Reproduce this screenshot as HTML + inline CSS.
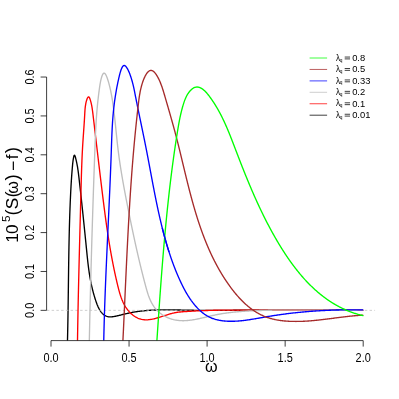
<!DOCTYPE html>
<html><head><meta charset="utf-8"><title>plot</title>
<style>
html,body{margin:0;padding:0;background:#fff;}
body{width:399px;height:399px;overflow:hidden;}
svg{display:block;will-change:transform;}
text{font-family:"Liberation Sans",sans-serif;fill:#000;}
</style></head><body>
<svg width="399" height="399" viewBox="0 0 399 399">
<rect width="399" height="399" fill="#fff"/>
<defs><clipPath id="bc"><rect x="158" y="228" width="14" height="24"/></clipPath><clipPath id="pc"><rect x="46.6" y="60" width="328.6" height="280.6"/></clipPath></defs>
<g clip-path="url(#pc)">
<path d="M67.48 340.46 L67.50 339.77 L67.52 339.09 L67.53 338.40 L67.55 337.71 L67.57 337.02 L67.58 336.33 L67.60 335.64 L67.61 334.95 L67.63 334.26 L67.64 333.57 L67.66 332.88 L67.67 332.19 L67.69 331.50 L67.70 330.81 L67.72 330.12 L67.73 329.43 L67.74 328.73 L67.76 328.04 L67.77 327.35 L67.79 326.65 L67.80 325.96 L67.81 325.27 L67.82 324.57 L67.84 323.88 L67.85 323.18 L67.86 322.49 L67.88 321.79 L67.89 321.10 L67.90 320.40 L67.91 319.70 L67.92 319.01 L67.94 318.31 L67.95 317.61 L67.96 316.92 L67.97 316.22 L67.98 315.52 L67.99 314.82 L68.00 314.12 L68.01 313.42 L68.02 312.73 L68.04 312.03 L68.05 311.33 L68.06 310.63 L68.07 309.93 L68.08 309.23 L68.09 308.53 L68.10 307.83 L68.11 307.13 L68.12 306.43 L68.13 305.72 L68.14 305.02 L68.15 304.32 L68.16 303.62 L68.17 302.92 L68.18 302.22 L68.19 301.51 L68.20 300.81 L68.20 300.11 L68.21 299.41 L68.22 298.70 L68.23 298.00 L68.24 297.30 L68.25 296.59 L68.26 295.89 L68.27 295.19 L68.28 294.48 L68.29 293.78 L68.30 293.08 L68.30 292.37 L68.31 291.67 L68.32 290.96 L68.33 290.26 L68.34 289.55 L68.35 288.85 L68.36 288.14 L68.37 287.44 L68.38 286.73 L68.38 286.03 L68.39 285.32 L68.40 284.62 L68.41 283.91 L68.42 283.21 L68.43 282.50 L68.44 281.80 L68.45 281.09 L68.46 280.39 L68.46 279.68 L68.47 278.97 L68.48 278.27 L68.49 277.56 L68.50 276.86 L68.51 276.15 L68.52 275.44 L68.53 274.74 L68.54 274.03 L68.55 273.33 L68.56 272.62 L68.57 271.91 L68.57 271.21 L68.58 270.50 L68.59 269.79 L68.60 269.09 L68.61 268.38 L68.62 267.68 L68.63 266.97 L68.64 266.26 L68.65 265.56 L68.66 264.85 L68.67 264.14 L68.68 263.44 L68.69 262.73 L68.70 262.03 L68.72 261.32 L68.73 260.61 L68.74 259.91 L68.75 259.20 L68.76 258.50 L68.77 257.79 L68.78 257.08 L68.79 256.38 L68.80 255.67 L68.82 254.97 L68.83 254.26 L68.84 253.56 L68.85 252.85 L68.86 252.15 L68.87 251.44 L68.89 250.74 L68.90 250.03 L68.91 249.33 L68.93 248.62 L68.94 247.92 L68.95 247.21 L68.96 246.51 L68.98 245.80 L68.99 245.10 L69.01 244.39 L69.02 243.69 L69.03 242.99 L69.05 242.28 L69.06 241.58 L69.08 240.88 L69.09 240.17 L69.11 239.47 L69.12 238.77 L69.14 238.06 L69.15 237.36 L69.17 236.66 L69.18 235.96 L69.20 235.25 L69.22 234.55 L69.23 233.85 L69.25 233.15 L69.27 232.45 L69.28 231.74 L69.30 231.04 L69.32 230.34 L69.34 229.64 L69.35 228.94 L69.37 228.24 L69.39 227.54 L69.41 226.84 L69.43 226.14 L69.45 225.44 L69.47 224.74 L69.49 224.04 L69.51 223.35 L69.53 222.65 L69.55 221.95 L69.57 221.25 L69.59 220.55 L69.61 219.86 L69.63 219.16 L69.65 218.46 L69.68 217.77 L69.70 217.07 L69.72 216.37 L69.74 215.68 L69.77 214.98 L69.79 214.29 L69.81 213.59 L69.84 212.90 L69.86 212.20 L69.89 211.51 L69.91 210.81 L69.94 210.12 L69.96 209.43 L69.99 208.73 L70.01 208.04 L70.04 207.35 L70.07 206.66 L70.09 205.97 L70.12 205.28 L70.15 204.58 L70.18 203.89 L70.20 203.20 L70.23 202.51 L70.26 201.82 L70.29 201.14 L70.32 200.45 L70.35 199.76 L70.38 199.07 L70.41 198.38 L70.44 197.69 L70.47 197.01 L70.51 196.32 L70.54 195.64 L70.57 194.95 L70.60 194.26 L70.64 193.58 L70.67 192.89 L70.70 192.21 L70.74 191.52 L70.77 190.84 L70.81 190.16 L70.85 189.47 L70.88 188.79 L70.92 188.10 L70.96 187.42 L70.99 186.73 L71.03 186.04 L71.07 185.36 L71.11 184.67 L71.15 183.98 L71.19 183.29 L71.24 182.60 L71.28 181.91 L71.32 181.22 L71.37 180.53 L71.41 179.83 L71.46 179.14 L71.51 178.44 L71.55 177.75 L71.60 177.05 L71.65 176.35 L71.70 175.65 L71.75 174.94 L71.80 174.24 L71.86 173.53 L71.91 172.82 L71.97 172.11 L72.02 171.40 L72.08 170.68 L72.14 169.97 L72.20 169.25 L72.26 168.53 L72.32 167.80 L72.38 167.08 L72.45 166.35 L72.51 165.62 L72.58 164.88 L72.65 164.15 L72.73 163.40 L72.81 162.66 L72.90 161.91 L72.99 161.15 L73.09 160.39 L73.20 159.62 L73.32 158.84 L73.46 158.06 L73.60 157.30 L73.75 156.60 L73.91 156.01 L74.08 155.54 L74.26 155.25 L74.45 155.17 L74.65 155.32 L74.86 155.67 L75.07 156.17 L75.28 156.80 L75.48 157.52 L75.69 158.29 L75.88 159.07 L76.07 159.84 L76.25 160.61 L76.42 161.37 L76.58 162.12 L76.74 162.86 L76.89 163.60 L77.03 164.33 L77.17 165.06 L77.30 165.78 L77.43 166.49 L77.55 167.20 L77.66 167.91 L77.77 168.61 L77.88 169.31 L77.98 170.01 L78.08 170.70 L78.18 171.39 L78.27 172.07 L78.36 172.76 L78.44 173.44 L78.53 174.12 L78.61 174.80 L78.69 175.48 L78.77 176.16 L78.85 176.84 L78.93 177.52 L79.01 178.20 L79.09 178.89 L79.16 179.57 L79.24 180.25 L79.32 180.94 L79.40 181.62 L79.48 182.31 L79.55 182.99 L79.63 183.68 L79.71 184.37 L79.79 185.06 L79.86 185.75 L79.94 186.44 L80.02 187.13 L80.10 187.82 L80.17 188.52 L80.25 189.21 L80.33 189.90 L80.40 190.60 L80.48 191.29 L80.56 191.99 L80.63 192.69 L80.71 193.38 L80.79 194.08 L80.86 194.78 L80.94 195.48 L81.02 196.18 L81.09 196.88 L81.17 197.58 L81.24 198.28 L81.32 198.98 L81.40 199.68 L81.47 200.38 L81.55 201.08 L81.62 201.79 L81.70 202.49 L81.77 203.19 L81.85 203.89 L81.92 204.60 L82.00 205.30 L82.07 206.01 L82.15 206.71 L82.22 207.41 L82.30 208.12 L82.37 208.82 L82.45 209.53 L82.52 210.23 L82.60 210.94 L82.67 211.65 L82.75 212.35 L82.82 213.06 L82.89 213.76 L82.97 214.47 L83.04 215.17 L83.12 215.88 L83.19 216.58 L83.26 217.29 L83.34 217.99 L83.41 218.70 L83.48 219.40 L83.56 220.11 L83.63 220.81 L83.70 221.52 L83.78 222.22 L83.85 222.93 L83.92 223.63 L83.99 224.34 L84.07 225.04 L84.14 225.74 L84.21 226.45 L84.28 227.15 L84.35 227.85 L84.43 228.55 L84.50 229.26 L84.57 229.96 L84.64 230.66 L84.71 231.36 L84.78 232.06 L84.86 232.76 L84.93 233.46 L85.00 234.16 L85.07 234.85 L85.14 235.55 L85.21 236.25 L85.28 236.95 L85.35 237.64 L85.42 238.34 L85.49 239.03 L85.56 239.73 L85.63 240.42 L85.70 241.11 L85.77 241.81 L85.84 242.50 L85.91 243.19 L85.98 243.88 L86.05 244.57 L86.12 245.26 L86.19 245.94 L86.25 246.63 L86.32 247.32 L86.39 248.00 L86.46 248.69 L86.53 249.37 L86.60 250.05 L86.66 250.74 L86.73 251.42 L86.80 252.10 L86.87 252.78 L86.94 253.45 L87.00 254.13 L87.07 254.81 L87.14 255.49 L87.21 256.16 L87.28 256.84 L87.35 257.51 L87.42 258.19 L87.49 258.86 L87.57 259.53 L87.64 260.21 L87.71 260.88 L87.79 261.55 L87.86 262.22 L87.94 262.90 L88.02 263.57 L88.10 264.24 L88.18 264.91 L88.26 265.58 L88.34 266.25 L88.43 266.92 L88.51 267.60 L88.60 268.27 L88.69 268.94 L88.78 269.61 L88.87 270.28 L88.97 270.95 L89.07 271.63 L89.16 272.30 L89.26 272.97 L89.37 273.65 L89.47 274.32 L89.58 274.99 L89.69 275.67 L89.80 276.34 L89.92 277.02 L90.03 277.70 L90.15 278.37 L90.27 279.05 L90.40 279.73 L90.53 280.41 L90.66 281.09 L90.79 281.77 L90.93 282.45 L91.06 283.14 L91.21 283.82 L91.35 284.51 L91.50 285.19 L91.65 285.88 L91.81 286.57 L91.97 287.26 L92.13 287.95 L92.30 288.64 L92.47 289.33 L92.64 290.03 L92.82 290.72 L93.00 291.42 L93.18 292.12 L93.37 292.82 L93.56 293.52 L93.76 294.22 L93.96 294.93 L94.17 295.63 L94.38 296.34 L94.59 297.05 L94.81 297.76 L95.03 298.47 L95.26 299.19 L95.49 299.90 L95.73 300.62 L95.97 301.34 L96.22 302.06 L96.48 302.77 L96.74 303.49 L97.01 304.19 L97.28 304.89 L97.57 305.59 L97.86 306.27 L98.16 306.95 L98.48 307.61 L98.80 308.26 L99.13 308.90 L99.48 309.52 L99.84 310.13 L100.21 310.72 L100.59 311.29 L100.98 311.84 L101.39 312.37 L101.82 312.87 L102.26 313.36 L102.71 313.81 L103.18 314.24 L103.67 314.64 L104.17 315.02 L104.69 315.36 L105.23 315.67 L105.79 315.95 L106.36 316.19 L106.96 316.40 L107.57 316.58 L108.21 316.71 L108.86 316.80 L109.54 316.86 L110.24 316.88 L110.95 316.86 L111.67 316.82 L112.41 316.74 L113.16 316.65 L113.91 316.53 L114.67 316.39 L115.43 316.24 L116.18 316.08 L116.94 315.91 L117.69 315.74 L118.43 315.57 L119.16 315.39 L119.89 315.22 L120.60 315.04 L121.31 314.87 L122.02 314.70 L122.71 314.53 L123.40 314.36 L124.09 314.19 L124.77 314.03 L125.45 313.86 L126.13 313.70 L126.80 313.55 L127.47 313.39 L128.14 313.24 L128.81 313.09 L129.47 312.95 L130.14 312.81 L130.81 312.67 L131.48 312.54 L132.15 312.41 L132.82 312.28 L133.50 312.16 L134.17 312.04 L134.84 311.93 L135.52 311.82 L136.20 311.72 L136.87 311.61 L137.55 311.51 L138.23 311.42 L138.91 311.33 L139.59 311.24 L140.27 311.15 L140.96 311.07 L141.64 310.99 L142.32 310.91 L143.01 310.84 L143.69 310.77 L144.38 310.71 L145.07 310.64 L145.75 310.58 L146.44 310.52 L147.13 310.47 L147.82 310.41 L148.51 310.36 L149.20 310.32 L149.89 310.27 L150.59 310.23 L151.28 310.19 L151.97 310.15 L152.67 310.12 L153.36 310.09 L154.05 310.06 L154.75 310.03 L155.45 310.00 L156.14 309.98 L156.84 309.96 L157.54 309.94 L158.23 309.92 L158.93 309.90 L159.63 309.89 L160.33 309.88 L161.03 309.86 L161.73 309.86 L162.43 309.85 L163.13 309.84 L163.83 309.84 L164.53 309.83 L165.23 309.83 L165.94 309.83 L166.64 309.83 L167.34 309.83 L168.04 309.84 L168.75 309.84 L169.45 309.85 L170.15 309.85 L170.86 309.86 L171.56 309.87 L172.27 309.88 L172.97 309.89 L173.67 309.90 L174.38 309.91 L175.08 309.92 L175.79 309.94 L176.49 309.95 L177.20 309.96 L177.90 309.98 L178.61 309.99 L179.31 310.01 L180.02 310.02 L180.72 310.04 L181.43 310.05 L182.13 310.07 L182.84 310.08 L183.54 310.10 L184.25 310.12 L184.95 310.13 L185.66 310.15 L186.36 310.16 L187.07 310.18 L187.77 310.19 L188.48 310.20 L189.18 310.22 L189.88 310.23 L190.59 310.24 L191.29 310.26 L192.00 310.27 L192.70 310.28 L193.40 310.29 L194.11 310.30 L194.81 310.31 L195.51 310.32 L196.21 310.33 L196.92 310.33 L197.62 310.34 L198.32 310.35 L199.02 310.35 L199.72 310.36 L200.42 310.37 L201.13 310.37 L201.83 310.38 L202.53 310.38 L203.23 310.39 L203.93 310.39 L204.63 310.39 L205.33 310.39 L206.03 310.40 L206.73 310.40 L207.43 310.40 L208.13 310.40 L208.83 310.40 L209.53 310.40 L210.23 310.40 L210.93 310.41 L211.63 310.40 L212.33 310.40 L213.03 310.40 L213.73 310.40 L214.43 310.40 L215.13 310.40 L215.83 310.40 L216.53 310.40 L217.23 310.39 L217.93 310.39 L218.62 310.39 L219.32 310.38 L220.02 310.38 L220.72 310.38 L221.42 310.37 L222.12 310.37 L222.82 310.37 L223.51 310.36 L224.21 310.36 L224.91 310.35 L225.61 310.35 L226.31 310.34 L227.00 310.34 L227.70 310.33 L228.40 310.33 L229.10 310.32 L229.80 310.32 L230.49 310.31 L231.19 310.31 L231.89 310.30 L232.59 310.30 L233.29 310.29 L233.98 310.29 L234.68 310.28 L235.38 310.27 L236.08 310.27 L236.77 310.26 L237.47 310.26 L238.17 310.25 L238.87 310.24 L239.57 310.24 L240.26 310.23 L240.96 310.23 L241.66 310.22 L242.36 310.22 L243.05 310.21 L243.75 310.20 L244.45 310.20 L245.15 310.19 L245.85 310.19 L246.54 310.18 L247.24 310.18 L247.94 310.17 L248.64 310.17 L249.34 310.16 L250.04 310.16 L250.73 310.15 L251.43 310.15 L252.13 310.15 L252.83 310.14 L253.53 310.14 L254.23 310.13 L254.92 310.13 L255.62 310.13 L256.32 310.13 L257.02 310.12 L257.72 310.12 L258.42 310.12 L259.12 310.11 L259.82 310.11 L260.51 310.11 L261.21 310.11 L261.91 310.11 L262.61 310.11 L263.31 310.10 L264.01 310.10 L264.71 310.10 L265.41 310.10 L266.11 310.10 L266.81 310.10 L267.51 310.10 L268.21 310.10 L268.91 310.10 L269.61 310.10 L270.31 310.10 L271.01 310.10 L271.71 310.10 L272.41 310.10 L273.11 310.10 L273.81 310.10 L274.51 310.10 L275.21 310.10 L275.91 310.10 L276.61 310.10 L277.31 310.10 L278.01 310.11 L278.71 310.11 L279.41 310.11 L280.11 310.11 L280.81 310.11 L281.51 310.11 L282.21 310.11 L282.91 310.12 L283.61 310.12 L284.31 310.12 L285.01 310.12 L285.71 310.12 L286.41 310.13 L287.11 310.13 L287.81 310.13 L288.51 310.13 L289.21 310.14 L289.91 310.14 L290.61 310.14 L291.31 310.14 L292.01 310.15 L292.71 310.15 L293.41 310.15 L294.12 310.15 L294.82 310.16 L295.52 310.16 L296.22 310.16 L296.92 310.16 L297.62 310.17 L298.32 310.17 L299.02 310.17 L299.72 310.18 L300.42 310.18 L301.12 310.18 L301.82 310.18 L302.52 310.19 L303.22 310.19 L303.92 310.19 L304.62 310.20 L305.33 310.20 L306.03 310.20 L306.73 310.20 L307.43 310.21 L308.13 310.21 L308.83 310.21 L309.53 310.21 L310.23 310.22 L310.93 310.22 L311.63 310.22 L312.33 310.22 L313.03 310.23 L313.73 310.23 L314.43 310.23 L315.13 310.23 L315.83 310.24 L316.53 310.24 L317.23 310.24 L317.93 310.24 L318.64 310.25 L319.34 310.25 L320.04 310.25 L320.74 310.25 L321.44 310.25 L322.14 310.25 L322.84 310.26 L323.54 310.26 L324.24 310.26 L324.94 310.26 L325.64 310.26 L326.34 310.26 L327.04 310.26 L327.74 310.27 L328.44 310.27 L329.14 310.27 L329.84 310.27 L330.54 310.27 L331.24 310.27 L331.94 310.27 L332.64 310.27 L333.34 310.27 L334.04 310.27 L334.74 310.27 L335.44 310.27 L336.13 310.27 L336.83 310.27 L337.53 310.27 L338.23 310.27 L338.93 310.27 L339.63 310.26 L340.33 310.26 L341.03 310.26 L341.73 310.26 L342.43 310.26 L343.13 310.26 L343.83 310.26 L344.53 310.25 L345.22 310.25 L345.92 310.25 L346.62 310.25 L347.32 310.24 L348.02 310.24 L348.72 310.24 L349.42 310.23 L350.12 310.23 L350.81 310.23 L351.51 310.22 L352.21 310.22 L352.91 310.21 L353.61 310.21 L354.31 310.20 L355.00 310.20 L355.70 310.19 L356.40 310.19 L357.10 310.18 L357.79 310.18 L358.49 310.17 L359.19 310.16 L359.89 310.16 L360.58 310.15 L361.28 310.14 L361.98 310.14 L362.68 310.13" fill="none" stroke="#000000" stroke-width="1.35" stroke-linecap="round" stroke-linejoin="round"/>
<path d="M46.6 310.35 H375.2" stroke="#BEBEBE" stroke-width="0.75" stroke-dasharray="2.45 2.295" stroke-dashoffset="-0.3" fill="none"/>
<path d="M77.50 340.51 L77.51 339.80 L77.52 339.10 L77.54 338.39 L77.55 337.68 L77.56 336.98 L77.57 336.27 L77.58 335.57 L77.59 334.86 L77.60 334.16 L77.61 333.45 L77.62 332.75 L77.64 332.04 L77.65 331.34 L77.66 330.64 L77.67 329.93 L77.68 329.23 L77.69 328.52 L77.71 327.82 L77.72 327.12 L77.73 326.41 L77.74 325.71 L77.76 325.01 L77.77 324.31 L77.78 323.60 L77.79 322.90 L77.81 322.20 L77.82 321.50 L77.83 320.79 L77.84 320.09 L77.86 319.39 L77.87 318.69 L77.88 317.99 L77.90 317.29 L77.91 316.59 L77.92 315.89 L77.94 315.18 L77.95 314.48 L77.96 313.78 L77.98 313.08 L77.99 312.38 L78.00 311.68 L78.02 310.98 L78.03 310.28 L78.05 309.58 L78.06 308.88 L78.07 308.18 L78.09 307.48 L78.10 306.78 L78.12 306.09 L78.13 305.39 L78.15 304.69 L78.16 303.99 L78.17 303.29 L78.19 302.59 L78.20 301.89 L78.22 301.19 L78.23 300.50 L78.25 299.80 L78.26 299.10 L78.28 298.40 L78.29 297.70 L78.31 297.00 L78.32 296.31 L78.34 295.61 L78.35 294.91 L78.37 294.21 L78.38 293.52 L78.40 292.82 L78.42 292.12 L78.43 291.42 L78.45 290.73 L78.46 290.03 L78.48 289.33 L78.49 288.63 L78.51 287.94 L78.52 287.24 L78.54 286.54 L78.56 285.85 L78.57 285.15 L78.59 284.45 L78.61 283.76 L78.62 283.06 L78.64 282.36 L78.65 281.66 L78.67 280.97 L78.69 280.27 L78.70 279.57 L78.72 278.88 L78.74 278.18 L78.75 277.48 L78.77 276.79 L78.79 276.09 L78.80 275.40 L78.82 274.70 L78.84 274.00 L78.85 273.31 L78.87 272.61 L78.89 271.91 L78.90 271.22 L78.92 270.52 L78.94 269.82 L78.95 269.13 L78.97 268.43 L78.99 267.73 L79.01 267.04 L79.02 266.34 L79.04 265.64 L79.06 264.95 L79.07 264.25 L79.09 263.56 L79.11 262.86 L79.13 262.16 L79.14 261.47 L79.16 260.77 L79.18 260.07 L79.20 259.38 L79.21 258.68 L79.23 257.98 L79.25 257.29 L79.27 256.59 L79.28 255.89 L79.30 255.20 L79.32 254.50 L79.34 253.80 L79.36 253.10 L79.37 252.41 L79.39 251.71 L79.41 251.01 L79.43 250.32 L79.44 249.62 L79.46 248.92 L79.48 248.22 L79.50 247.53 L79.52 246.83 L79.53 246.13 L79.55 245.43 L79.57 244.74 L79.59 244.04 L79.61 243.34 L79.63 242.64 L79.64 241.94 L79.66 241.25 L79.68 240.55 L79.70 239.85 L79.72 239.15 L79.73 238.45 L79.75 237.75 L79.77 237.06 L79.79 236.36 L79.81 235.66 L79.83 234.96 L79.84 234.26 L79.86 233.56 L79.88 232.86 L79.90 232.16 L79.92 231.46 L79.94 230.76 L79.95 230.06 L79.97 229.36 L79.99 228.66 L80.01 227.96 L80.03 227.26 L80.05 226.56 L80.07 225.86 L80.08 225.16 L80.10 224.46 L80.12 223.76 L80.14 223.06 L80.16 222.36 L80.18 221.66 L80.20 220.96 L80.21 220.25 L80.23 219.55 L80.25 218.85 L80.27 218.15 L80.29 217.45 L80.31 216.74 L80.32 216.04 L80.34 215.34 L80.36 214.64 L80.38 213.93 L80.40 213.23 L80.42 212.53 L80.44 211.82 L80.45 211.12 L80.47 210.42 L80.49 209.71 L80.51 209.01 L80.53 208.31 L80.55 207.60 L80.57 206.90 L80.58 206.19 L80.60 205.49 L80.62 204.78 L80.64 204.08 L80.66 203.37 L80.68 202.66 L80.70 201.96 L80.71 201.25 L80.73 200.55 L80.75 199.84 L80.77 199.13 L80.79 198.43 L80.81 197.72 L80.82 197.01 L80.84 196.30 L80.86 195.60 L80.88 194.89 L80.90 194.18 L80.92 193.47 L80.93 192.76 L80.95 192.05 L80.97 191.35 L80.99 190.64 L81.01 189.93 L81.03 189.22 L81.05 188.51 L81.06 187.80 L81.08 187.09 L81.10 186.38 L81.12 185.67 L81.14 184.96 L81.16 184.25 L81.18 183.55 L81.20 182.84 L81.22 182.13 L81.24 181.42 L81.26 180.71 L81.28 180.00 L81.30 179.30 L81.32 178.59 L81.34 177.88 L81.36 177.17 L81.38 176.47 L81.40 175.76 L81.42 175.05 L81.44 174.35 L81.47 173.64 L81.49 172.94 L81.51 172.23 L81.53 171.53 L81.56 170.82 L81.58 170.12 L81.60 169.42 L81.63 168.71 L81.65 168.01 L81.68 167.31 L81.70 166.61 L81.73 165.91 L81.75 165.21 L81.78 164.51 L81.81 163.81 L81.83 163.12 L81.86 162.42 L81.89 161.72 L81.92 161.03 L81.94 160.33 L81.97 159.64 L82.00 158.95 L82.03 158.25 L82.06 157.56 L82.09 156.87 L82.12 156.18 L82.16 155.49 L82.19 154.81 L82.22 154.12 L82.25 153.43 L82.29 152.75 L82.32 152.06 L82.36 151.38 L82.39 150.70 L82.43 150.02 L82.47 149.34 L82.50 148.66 L82.54 147.98 L82.58 147.31 L82.62 146.63 L82.66 145.96 L82.70 145.29 L82.74 144.61 L82.78 143.94 L82.82 143.27 L82.87 142.61 L82.91 141.94 L82.95 141.27 L83.00 140.60 L83.04 139.94 L83.09 139.27 L83.13 138.60 L83.18 137.93 L83.22 137.27 L83.27 136.60 L83.32 135.93 L83.36 135.26 L83.41 134.59 L83.46 133.92 L83.51 133.24 L83.55 132.57 L83.60 131.89 L83.65 131.21 L83.70 130.53 L83.74 129.85 L83.79 129.16 L83.84 128.48 L83.89 127.78 L83.94 127.09 L83.98 126.39 L84.03 125.70 L84.08 124.99 L84.12 124.29 L84.17 123.58 L84.22 122.86 L84.26 122.15 L84.31 121.42 L84.35 120.70 L84.40 119.97 L84.44 119.23 L84.49 118.49 L84.53 117.75 L84.57 117.00 L84.62 116.25 L84.66 115.49 L84.70 114.72 L84.74 113.95 L84.78 113.18 L84.83 112.40 L84.87 111.61 L84.93 110.83 L84.98 110.04 L85.05 109.25 L85.12 108.47 L85.20 107.68 L85.29 106.89 L85.39 106.10 L85.51 105.32 L85.63 104.53 L85.77 103.75 L85.93 102.98 L86.10 102.21 L86.29 101.44 L86.49 100.68 L86.72 99.94 L86.96 99.24 L87.21 98.59 L87.47 98.02 L87.74 97.54 L88.01 97.18 L88.29 96.95 L88.56 96.88 L88.84 96.97 L89.11 97.23 L89.37 97.61 L89.63 98.12 L89.88 98.72 L90.12 99.39 L90.36 100.12 L90.58 100.88 L90.79 101.65 L90.99 102.42 L91.17 103.19 L91.34 103.94 L91.50 104.69 L91.66 105.43 L91.80 106.17 L91.93 106.90 L92.06 107.63 L92.17 108.35 L92.28 109.07 L92.39 109.79 L92.49 110.50 L92.58 111.21 L92.67 111.92 L92.76 112.62 L92.85 113.33 L92.93 114.03 L93.01 114.74 L93.10 115.44 L93.18 116.14 L93.27 116.85 L93.35 117.55 L93.43 118.25 L93.51 118.96 L93.60 119.66 L93.68 120.37 L93.76 121.07 L93.85 121.77 L93.93 122.48 L94.01 123.18 L94.10 123.88 L94.18 124.59 L94.26 125.29 L94.35 125.99 L94.43 126.70 L94.51 127.40 L94.59 128.11 L94.68 128.81 L94.76 129.51 L94.84 130.22 L94.93 130.92 L95.01 131.62 L95.09 132.33 L95.17 133.03 L95.26 133.73 L95.34 134.44 L95.42 135.14 L95.50 135.84 L95.59 136.54 L95.67 137.25 L95.75 137.95 L95.84 138.65 L95.92 139.35 L96.00 140.06 L96.08 140.76 L96.17 141.46 L96.25 142.16 L96.33 142.87 L96.41 143.57 L96.50 144.27 L96.58 144.97 L96.66 145.68 L96.74 146.38 L96.83 147.08 L96.91 147.78 L96.99 148.48 L97.08 149.18 L97.16 149.88 L97.24 150.59 L97.32 151.29 L97.41 151.99 L97.49 152.69 L97.57 153.39 L97.65 154.09 L97.74 154.79 L97.82 155.49 L97.90 156.19 L97.99 156.89 L98.07 157.59 L98.15 158.29 L98.23 158.99 L98.32 159.69 L98.40 160.39 L98.48 161.09 L98.57 161.79 L98.65 162.49 L98.73 163.18 L98.81 163.88 L98.90 164.58 L98.98 165.28 L99.06 165.98 L99.15 166.68 L99.23 167.37 L99.31 168.07 L99.40 168.77 L99.48 169.47 L99.56 170.16 L99.65 170.86 L99.73 171.56 L99.81 172.25 L99.90 172.95 L99.98 173.64 L100.06 174.34 L100.15 175.04 L100.23 175.73 L100.31 176.43 L100.40 177.12 L100.48 177.82 L100.57 178.51 L100.65 179.21 L100.73 179.90 L100.82 180.59 L100.90 181.29 L100.98 181.98 L101.07 182.68 L101.15 183.37 L101.24 184.06 L101.32 184.75 L101.41 185.45 L101.49 186.14 L101.57 186.83 L101.66 187.52 L101.74 188.21 L101.83 188.91 L101.91 189.60 L102.00 190.29 L102.08 190.98 L102.17 191.67 L102.25 192.36 L102.34 193.05 L102.42 193.74 L102.51 194.43 L102.59 195.12 L102.68 195.80 L102.76 196.49 L102.85 197.18 L102.93 197.87 L103.02 198.56 L103.11 199.24 L103.19 199.93 L103.28 200.62 L103.36 201.30 L103.45 201.99 L103.54 202.68 L103.62 203.36 L103.71 204.05 L103.80 204.73 L103.88 205.42 L103.97 206.10 L104.06 206.79 L104.15 207.47 L104.24 208.16 L104.32 208.84 L104.41 209.53 L104.50 210.21 L104.59 210.90 L104.68 211.58 L104.77 212.26 L104.86 212.95 L104.95 213.63 L105.04 214.31 L105.13 215.00 L105.22 215.68 L105.31 216.36 L105.40 217.05 L105.50 217.73 L105.59 218.41 L105.68 219.10 L105.78 219.78 L105.87 220.46 L105.96 221.14 L106.06 221.83 L106.15 222.51 L106.25 223.19 L106.34 223.87 L106.44 224.55 L106.54 225.24 L106.63 225.92 L106.73 226.60 L106.83 227.28 L106.93 227.96 L107.02 228.65 L107.12 229.33 L107.22 230.01 L107.32 230.69 L107.43 231.38 L107.53 232.06 L107.63 232.74 L107.73 233.42 L107.83 234.10 L107.94 234.79 L108.04 235.47 L108.15 236.15 L108.25 236.83 L108.36 237.52 L108.47 238.20 L108.57 238.88 L108.68 239.56 L108.79 240.25 L108.90 240.93 L109.01 241.61 L109.12 242.30 L109.23 242.98 L109.34 243.66 L109.45 244.35 L109.57 245.03 L109.68 245.71 L109.80 246.40 L109.91 247.08 L110.03 247.77 L110.14 248.45 L110.26 249.14 L110.38 249.82 L110.50 250.51 L110.62 251.19 L110.74 251.88 L110.86 252.56 L110.98 253.25 L111.11 253.93 L111.23 254.62 L111.35 255.31 L111.48 255.99 L111.61 256.68 L111.73 257.37 L111.86 258.05 L111.99 258.74 L112.12 259.43 L112.25 260.12 L112.38 260.80 L112.51 261.49 L112.65 262.18 L112.78 262.87 L112.92 263.56 L113.05 264.25 L113.19 264.94 L113.33 265.63 L113.47 266.32 L113.61 267.01 L113.75 267.70 L113.89 268.39 L114.03 269.08 L114.18 269.78 L114.32 270.47 L114.47 271.16 L114.62 271.85 L114.76 272.55 L114.91 273.24 L115.06 273.94 L115.22 274.63 L115.37 275.33 L115.52 276.02 L115.68 276.72 L115.83 277.41 L115.99 278.11 L116.15 278.81 L116.31 279.50 L116.47 280.20 L116.63 280.90 L116.79 281.60 L116.95 282.30 L117.12 283.00 L117.28 283.70 L117.45 284.40 L117.62 285.10 L117.79 285.80 L117.96 286.50 L118.13 287.20 L118.31 287.90 L118.49 288.60 L118.67 289.30 L118.85 290.00 L119.04 290.69 L119.23 291.39 L119.43 292.08 L119.63 292.77 L119.83 293.46 L120.04 294.15 L120.25 294.83 L120.47 295.52 L120.70 296.19 L120.93 296.87 L121.16 297.54 L121.41 298.21 L121.66 298.87 L121.91 299.53 L122.18 300.18 L122.45 300.83 L122.73 301.48 L123.02 302.11 L123.31 302.75 L123.62 303.38 L123.93 304.00 L124.26 304.61 L124.59 305.22 L124.93 305.82 L125.29 306.42 L125.65 307.01 L126.03 307.59 L126.41 308.16 L126.81 308.73 L127.22 309.29 L127.64 309.84 L128.07 310.38 L128.52 310.91 L128.97 311.43 L129.44 311.94 L129.92 312.45 L130.41 312.94 L130.91 313.41 L131.42 313.88 L131.95 314.33 L132.48 314.77 L133.02 315.20 L133.57 315.61 L134.12 316.00 L134.69 316.38 L135.27 316.74 L135.85 317.08 L136.44 317.41 L137.04 317.72 L137.64 318.01 L138.25 318.28 L138.87 318.53 L139.50 318.76 L140.13 318.96 L140.76 319.15 L141.40 319.31 L142.05 319.45 L142.70 319.57 L143.35 319.66 L144.01 319.73 L144.67 319.79 L145.34 319.82 L146.01 319.83 L146.69 319.82 L147.37 319.80 L148.05 319.76 L148.73 319.70 L149.42 319.62 L150.11 319.53 L150.80 319.43 L151.50 319.31 L152.20 319.18 L152.90 319.04 L153.60 318.89 L154.31 318.72 L155.01 318.55 L155.72 318.37 L156.43 318.18 L157.14 317.98 L157.85 317.77 L158.56 317.56 L159.28 317.35 L159.99 317.13 L160.71 316.90 L161.42 316.67 L162.14 316.44 L162.85 316.21 L163.57 315.98 L164.28 315.75 L164.99 315.51 L165.71 315.28 L166.42 315.06 L167.13 314.83 L167.84 314.61 L168.55 314.39 L169.26 314.18 L169.96 313.97 L170.66 313.77 L171.37 313.58 L172.07 313.40 L172.76 313.22 L173.46 313.05 L174.15 312.90 L174.84 312.76 L175.53 312.62 L176.21 312.50 L176.89 312.39 L177.57 312.29 L178.25 312.20 L178.92 312.11 L179.60 312.03 L180.27 311.96 L180.95 311.90 L181.62 311.84 L182.29 311.79 L182.97 311.73 L183.64 311.69 L184.32 311.64 L184.99 311.59 L185.67 311.55 L186.35 311.51 L187.03 311.46 L187.71 311.42 L188.40 311.38 L189.08 311.34 L189.77 311.29 L190.46 311.25 L191.14 311.21 L191.83 311.18 L192.53 311.14 L193.22 311.10 L193.91 311.06 L194.60 311.03 L195.30 310.99 L196.00 310.95 L196.69 310.92 L197.39 310.89 L198.09 310.85 L198.79 310.82 L199.49 310.79 L200.19 310.76 L200.89 310.73 L201.59 310.70 L202.29 310.67 L203.00 310.64 L203.70 310.61 L204.40 310.58 L205.11 310.56 L205.81 310.53 L206.52 310.51 L207.22 310.48 L207.93 310.46 L208.63 310.43 L209.34 310.41 L210.05 310.39 L210.75 310.37 L211.46 310.35 L212.16 310.33 L212.87 310.31 L213.57 310.29 L214.28 310.28 L214.98 310.26 L215.69 310.24 L216.39 310.23 L217.10 310.21 L217.80 310.20 L218.51 310.19 L219.21 310.18 L219.91 310.16 L220.62 310.15 L221.32 310.14 L222.02 310.13 L222.73 310.13 L223.43 310.12 L224.13 310.11 L224.83 310.10 L225.54 310.10 L226.24 310.09 L226.94 310.08 L227.64 310.08 L228.34 310.08 L229.04 310.07 L229.75 310.07 L230.45 310.07 L231.15 310.06 L231.85 310.06 L232.55 310.06 L233.25 310.06 L233.95 310.06 L234.65 310.06 L235.35 310.06 L236.05 310.06 L236.75 310.06 L237.45 310.06 L238.15 310.06 L238.85 310.06 L239.55 310.06 L240.25 310.07 L240.95 310.07 L241.64 310.07 L242.34 310.08 L243.04 310.08 L243.74 310.08 L244.44 310.09 L245.14 310.09 L245.84 310.09 L246.54 310.10 L247.24 310.10 L247.93 310.11 L248.63 310.11 L249.33 310.12 L250.03 310.12 L250.73 310.13 L251.43 310.13 L252.13 310.14 L252.82 310.14 L253.52 310.15 L254.22 310.15 L254.92 310.16 L255.62 310.16 L256.32 310.17 L257.01 310.17 L257.71 310.18 L258.41 310.18 L259.11 310.19 L259.81 310.19 L260.51 310.20 L261.20 310.20 L261.90 310.21 L262.60 310.21 L263.30 310.22 L264.00 310.22 L264.70 310.22 L265.40 310.23 L266.10 310.23 L266.79 310.23 L267.49 310.24 L268.19 310.24 L268.89 310.24 L269.59 310.25 L270.29 310.25 L270.99 310.25 L271.69 310.25 L272.39 310.25 L273.09 310.26 L273.79 310.26 L274.49 310.26 L275.19 310.26 L275.89 310.26 L276.58 310.26 L277.28 310.26 L277.98 310.27 L278.68 310.27 L279.38 310.27 L280.08 310.27 L280.78 310.27 L281.48 310.27 L282.18 310.27 L282.88 310.27 L283.58 310.27 L284.28 310.27 L284.98 310.27 L285.68 310.27 L286.38 310.27 L287.08 310.27 L287.78 310.27 L288.48 310.26 L289.18 310.26 L289.88 310.26 L290.58 310.26 L291.28 310.26 L291.99 310.26 L292.69 310.26 L293.39 310.26 L294.09 310.26 L294.79 310.25 L295.49 310.25 L296.19 310.25 L296.89 310.25 L297.59 310.25 L298.29 310.25 L298.99 310.24 L299.69 310.24 L300.39 310.24 L301.09 310.24 L301.79 310.24 L302.49 310.23 L303.19 310.23 L303.89 310.23 L304.59 310.23 L305.29 310.23 L306.00 310.22 L306.70 310.22 L307.40 310.22 L308.10 310.22 L308.80 310.21 L309.50 310.21 L310.20 310.21 L310.90 310.21 L311.60 310.21 L312.30 310.20 L313.00 310.20 L313.70 310.20 L314.40 310.20 L315.10 310.20 L315.80 310.19 L316.50 310.19 L317.21 310.19 L317.91 310.19 L318.61 310.18 L319.31 310.18 L320.01 310.18 L320.71 310.18 L321.41 310.18 L322.11 310.18 L322.81 310.17 L323.51 310.17 L324.21 310.17 L324.91 310.17 L325.61 310.17 L326.31 310.17 L327.01 310.16 L327.71 310.16 L328.41 310.16 L329.11 310.16 L329.81 310.16 L330.51 310.16 L331.21 310.16 L331.91 310.16 L332.62 310.16 L333.32 310.15 L334.02 310.15 L334.72 310.15 L335.42 310.15 L336.12 310.15 L336.82 310.15 L337.52 310.15 L338.22 310.15 L338.92 310.15 L339.62 310.15 L340.32 310.15 L341.02 310.15 L341.72 310.15 L342.41 310.15 L343.11 310.16 L343.81 310.16 L344.51 310.16 L345.21 310.16 L345.91 310.16 L346.61 310.16 L347.31 310.16 L348.01 310.17 L348.71 310.17 L349.41 310.17 L350.11 310.17 L350.81 310.17 L351.51 310.18 L352.21 310.18 L352.91 310.18 L353.60 310.19 L354.30 310.19 L355.00 310.19 L355.70 310.20 L356.40 310.20 L357.10 310.20 L357.80 310.21 L358.50 310.21 L359.19 310.22 L359.89 310.22 L360.59 310.23 L361.29 310.23 L361.99 310.24 L362.69 310.24" fill="none" stroke="#FF0000" stroke-width="1.35" stroke-linecap="round" stroke-linejoin="round"/>
<path d="M89.33 340.41 L89.35 339.73 L89.36 339.05 L89.37 338.36 L89.39 337.68 L89.40 337.00 L89.42 336.32 L89.43 335.63 L89.45 334.95 L89.46 334.26 L89.47 333.58 L89.49 332.89 L89.50 332.21 L89.52 331.52 L89.53 330.83 L89.55 330.15 L89.56 329.46 L89.58 328.77 L89.59 328.08 L89.61 327.40 L89.62 326.71 L89.64 326.02 L89.65 325.33 L89.67 324.64 L89.68 323.95 L89.70 323.26 L89.71 322.57 L89.73 321.88 L89.74 321.18 L89.76 320.49 L89.77 319.80 L89.79 319.11 L89.81 318.42 L89.82 317.72 L89.84 317.03 L89.85 316.34 L89.87 315.64 L89.88 314.95 L89.90 314.25 L89.92 313.56 L89.93 312.86 L89.95 312.17 L89.97 311.47 L89.98 310.77 L90.00 310.08 L90.01 309.38 L90.03 308.69 L90.05 307.99 L90.06 307.29 L90.08 306.59 L90.10 305.89 L90.11 305.20 L90.13 304.50 L90.15 303.80 L90.16 303.10 L90.18 302.40 L90.20 301.70 L90.21 301.00 L90.23 300.30 L90.25 299.60 L90.27 298.90 L90.28 298.20 L90.30 297.50 L90.32 296.80 L90.34 296.10 L90.35 295.40 L90.37 294.70 L90.39 293.99 L90.41 293.29 L90.42 292.59 L90.44 291.89 L90.46 291.18 L90.48 290.48 L90.49 289.78 L90.51 289.07 L90.53 288.37 L90.55 287.67 L90.57 286.96 L90.58 286.26 L90.60 285.56 L90.62 284.85 L90.64 284.15 L90.66 283.44 L90.68 282.74 L90.69 282.03 L90.71 281.33 L90.73 280.62 L90.75 279.92 L90.77 279.21 L90.79 278.51 L90.81 277.80 L90.82 277.10 L90.84 276.39 L90.86 275.68 L90.88 274.98 L90.90 274.27 L90.92 273.57 L90.94 272.86 L90.96 272.15 L90.98 271.45 L90.99 270.74 L91.01 270.03 L91.03 269.33 L91.05 268.62 L91.07 267.91 L91.09 267.20 L91.11 266.50 L91.13 265.79 L91.15 265.08 L91.17 264.37 L91.19 263.67 L91.21 262.96 L91.23 262.25 L91.25 261.54 L91.27 260.84 L91.29 260.13 L91.31 259.42 L91.33 258.71 L91.35 258.01 L91.37 257.30 L91.39 256.59 L91.41 255.88 L91.43 255.17 L91.45 254.47 L91.47 253.76 L91.49 253.05 L91.51 252.34 L91.53 251.63 L91.55 250.92 L91.57 250.22 L91.59 249.51 L91.61 248.80 L91.63 248.09 L91.65 247.38 L91.67 246.68 L91.69 245.97 L91.71 245.26 L91.73 244.55 L91.76 243.84 L91.78 243.14 L91.80 242.43 L91.82 241.72 L91.84 241.01 L91.86 240.31 L91.88 239.60 L91.90 238.89 L91.92 238.18 L91.94 237.47 L91.97 236.77 L91.99 236.06 L92.01 235.35 L92.03 234.65 L92.05 233.94 L92.07 233.23 L92.09 232.52 L92.11 231.82 L92.14 231.11 L92.16 230.40 L92.18 229.70 L92.20 228.99 L92.22 228.28 L92.24 227.58 L92.27 226.87 L92.29 226.16 L92.31 225.46 L92.33 224.75 L92.35 224.05 L92.38 223.34 L92.40 222.64 L92.42 221.93 L92.44 221.22 L92.46 220.52 L92.49 219.81 L92.51 219.11 L92.53 218.40 L92.55 217.70 L92.57 217.00 L92.60 216.29 L92.62 215.59 L92.64 214.88 L92.66 214.18 L92.69 213.48 L92.71 212.77 L92.73 212.07 L92.75 211.37 L92.78 210.66 L92.80 209.96 L92.82 209.26 L92.84 208.56 L92.87 207.85 L92.89 207.15 L92.91 206.45 L92.94 205.75 L92.96 205.05 L92.98 204.35 L93.00 203.64 L93.03 202.94 L93.05 202.24 L93.07 201.54 L93.10 200.84 L93.12 200.14 L93.14 199.44 L93.16 198.74 L93.19 198.05 L93.21 197.35 L93.23 196.65 L93.26 195.95 L93.28 195.25 L93.30 194.55 L93.33 193.86 L93.35 193.16 L93.37 192.46 L93.40 191.77 L93.42 191.07 L93.44 190.37 L93.47 189.68 L93.49 188.98 L93.52 188.29 L93.54 187.59 L93.56 186.90 L93.59 186.20 L93.61 185.51 L93.63 184.81 L93.66 184.12 L93.68 183.43 L93.70 182.73 L93.73 182.04 L93.75 181.35 L93.78 180.66 L93.80 179.96 L93.82 179.27 L93.85 178.58 L93.87 177.89 L93.90 177.20 L93.92 176.51 L93.94 175.82 L93.97 175.13 L93.99 174.44 L94.02 173.76 L94.04 173.07 L94.06 172.38 L94.09 171.69 L94.11 171.00 L94.14 170.32 L94.16 169.63 L94.19 168.95 L94.21 168.26 L94.23 167.57 L94.26 166.89 L94.28 166.21 L94.31 165.52 L94.33 164.84 L94.36 164.15 L94.38 163.47 L94.41 162.79 L94.43 162.11 L94.46 161.43 L94.48 160.74 L94.50 160.06 L94.53 159.38 L94.55 158.70 L94.58 158.02 L94.60 157.34 L94.63 156.67 L94.65 155.99 L94.68 155.31 L94.70 154.63 L94.73 153.96 L94.75 153.28 L94.78 152.60 L94.80 151.93 L94.83 151.25 L94.85 150.58 L94.88 149.90 L94.90 149.23 L94.93 148.56 L94.95 147.89 L94.98 147.21 L95.00 146.54 L95.03 145.87 L95.05 145.20 L95.08 144.53 L95.10 143.86 L95.13 143.19 L95.15 142.52 L95.18 141.85 L95.20 141.18 L95.23 140.51 L95.26 139.85 L95.28 139.18 L95.31 138.51 L95.34 137.84 L95.36 137.17 L95.39 136.50 L95.42 135.83 L95.45 135.16 L95.48 134.49 L95.51 133.82 L95.54 133.15 L95.57 132.48 L95.60 131.80 L95.63 131.13 L95.66 130.45 L95.69 129.78 L95.73 129.10 L95.76 128.42 L95.80 127.75 L95.83 127.07 L95.87 126.38 L95.91 125.70 L95.94 125.02 L95.98 124.33 L96.02 123.65 L96.06 122.96 L96.11 122.27 L96.15 121.58 L96.19 120.89 L96.24 120.19 L96.28 119.50 L96.33 118.80 L96.38 118.10 L96.43 117.39 L96.48 116.69 L96.53 115.98 L96.58 115.28 L96.63 114.56 L96.69 113.85 L96.74 113.14 L96.80 112.42 L96.86 111.70 L96.92 110.97 L96.98 110.25 L97.05 109.52 L97.11 108.79 L97.18 108.05 L97.25 107.32 L97.32 106.58 L97.39 105.83 L97.46 105.09 L97.53 104.34 L97.61 103.59 L97.69 102.83 L97.77 102.07 L97.85 101.31 L97.93 100.54 L98.01 99.78 L98.10 99.00 L98.19 98.23 L98.28 97.45 L98.37 96.66 L98.46 95.88 L98.56 95.08 L98.66 94.29 L98.76 93.49 L98.86 92.69 L98.96 91.88 L99.07 91.07 L99.18 90.25 L99.29 89.43 L99.40 88.61 L99.52 87.78 L99.63 86.95 L99.76 86.12 L99.88 85.28 L100.02 84.46 L100.16 83.63 L100.30 82.81 L100.45 82.00 L100.62 81.19 L100.79 80.40 L100.96 79.62 L101.15 78.87 L101.34 78.14 L101.54 77.44 L101.75 76.78 L101.96 76.15 L102.18 75.58 L102.40 75.05 L102.63 74.57 L102.86 74.16 L103.10 73.81 L103.34 73.53 L103.59 73.32 L103.84 73.19 L104.09 73.14 L104.34 73.18 L104.60 73.29 L104.86 73.49 L105.12 73.76 L105.38 74.09 L105.65 74.49 L105.91 74.95 L106.17 75.46 L106.43 76.03 L106.69 76.64 L106.95 77.29 L107.21 77.97 L107.46 78.69 L107.71 79.44 L107.95 80.21 L108.19 81.00 L108.43 81.80 L108.66 82.62 L108.89 83.44 L109.11 84.26 L109.32 85.08 L109.53 85.89 L109.73 86.70 L109.92 87.51 L110.11 88.31 L110.29 89.11 L110.47 89.91 L110.64 90.70 L110.81 91.49 L110.97 92.28 L111.12 93.06 L111.27 93.84 L111.42 94.61 L111.56 95.39 L111.70 96.16 L111.84 96.92 L111.97 97.69 L112.09 98.45 L112.22 99.20 L112.34 99.96 L112.45 100.71 L112.57 101.46 L112.68 102.20 L112.79 102.94 L112.90 103.68 L113.00 104.42 L113.10 105.16 L113.20 105.89 L113.30 106.62 L113.40 107.35 L113.50 108.07 L113.59 108.79 L113.68 109.51 L113.78 110.23 L113.87 110.95 L113.95 111.66 L114.04 112.37 L114.13 113.08 L114.21 113.79 L114.30 114.49 L114.38 115.20 L114.46 115.90 L114.54 116.60 L114.62 117.30 L114.70 117.99 L114.78 118.69 L114.85 119.38 L114.93 120.07 L115.00 120.76 L115.08 121.45 L115.15 122.14 L115.22 122.83 L115.30 123.51 L115.37 124.19 L115.44 124.88 L115.51 125.56 L115.58 126.24 L115.65 126.92 L115.72 127.60 L115.79 128.27 L115.86 128.95 L115.93 129.63 L115.99 130.30 L116.06 130.97 L116.13 131.65 L116.20 132.32 L116.27 132.99 L116.34 133.66 L116.40 134.34 L116.47 135.01 L116.54 135.68 L116.61 136.35 L116.68 137.02 L116.75 137.69 L116.82 138.36 L116.89 139.02 L116.96 139.69 L117.03 140.36 L117.10 141.03 L117.17 141.70 L117.24 142.37 L117.32 143.04 L117.39 143.71 L117.46 144.38 L117.54 145.05 L117.62 145.72 L117.69 146.39 L117.77 147.07 L117.85 147.74 L117.93 148.41 L118.01 149.09 L118.09 149.76 L118.17 150.44 L118.26 151.11 L118.34 151.79 L118.43 152.47 L118.52 153.14 L118.61 153.82 L118.69 154.50 L118.79 155.18 L118.88 155.86 L118.97 156.54 L119.06 157.23 L119.16 157.91 L119.25 158.59 L119.35 159.28 L119.45 159.96 L119.55 160.65 L119.65 161.33 L119.75 162.02 L119.85 162.71 L119.95 163.39 L120.05 164.08 L120.16 164.77 L120.26 165.46 L120.37 166.15 L120.47 166.84 L120.58 167.53 L120.69 168.22 L120.80 168.91 L120.91 169.60 L121.02 170.29 L121.13 170.98 L121.24 171.67 L121.36 172.37 L121.47 173.06 L121.59 173.75 L121.70 174.45 L121.82 175.14 L121.93 175.84 L122.05 176.53 L122.17 177.22 L122.29 177.92 L122.41 178.62 L122.53 179.31 L122.65 180.01 L122.77 180.70 L122.89 181.40 L123.02 182.09 L123.14 182.79 L123.26 183.49 L123.39 184.18 L123.51 184.88 L123.64 185.58 L123.77 186.27 L123.89 186.97 L124.02 187.67 L124.15 188.36 L124.28 189.06 L124.41 189.76 L124.54 190.45 L124.67 191.15 L124.80 191.85 L124.93 192.54 L125.06 193.24 L125.19 193.94 L125.32 194.63 L125.45 195.33 L125.59 196.03 L125.72 196.72 L125.85 197.42 L125.99 198.12 L126.12 198.81 L126.26 199.51 L126.39 200.20 L126.53 200.90 L126.66 201.59 L126.80 202.29 L126.94 202.98 L127.07 203.68 L127.21 204.37 L127.35 205.06 L127.48 205.76 L127.62 206.45 L127.76 207.14 L127.90 207.83 L128.04 208.53 L128.17 209.22 L128.31 209.91 L128.45 210.60 L128.59 211.29 L128.73 211.98 L128.87 212.67 L129.01 213.36 L129.15 214.05 L129.29 214.74 L129.43 215.42 L129.57 216.11 L129.71 216.80 L129.85 217.49 L129.99 218.17 L130.13 218.86 L130.27 219.54 L130.41 220.23 L130.55 220.91 L130.69 221.59 L130.83 222.28 L130.97 222.96 L131.11 223.64 L131.25 224.32 L131.39 225.00 L131.53 225.69 L131.68 226.37 L131.82 227.05 L131.96 227.73 L132.10 228.41 L132.24 229.09 L132.39 229.77 L132.53 230.44 L132.67 231.12 L132.82 231.80 L132.96 232.48 L133.10 233.16 L133.25 233.84 L133.39 234.51 L133.53 235.19 L133.68 235.87 L133.82 236.54 L133.97 237.22 L134.12 237.90 L134.26 238.57 L134.41 239.25 L134.55 239.93 L134.70 240.60 L134.85 241.28 L135.00 241.95 L135.14 242.63 L135.29 243.31 L135.44 243.98 L135.59 244.66 L135.74 245.33 L135.89 246.01 L136.04 246.68 L136.19 247.36 L136.34 248.04 L136.49 248.71 L136.65 249.39 L136.80 250.06 L136.95 250.74 L137.10 251.41 L137.26 252.09 L137.41 252.77 L137.57 253.44 L137.72 254.12 L137.88 254.80 L138.03 255.47 L138.19 256.15 L138.35 256.83 L138.50 257.50 L138.66 258.18 L138.82 258.86 L138.98 259.54 L139.14 260.21 L139.30 260.89 L139.46 261.57 L139.62 262.25 L139.79 262.93 L139.95 263.61 L140.11 264.29 L140.28 264.97 L140.44 265.65 L140.61 266.33 L140.77 267.01 L140.94 267.69 L141.10 268.37 L141.27 269.05 L141.44 269.74 L141.61 270.42 L141.78 271.10 L141.95 271.78 L142.12 272.47 L142.29 273.15 L142.47 273.84 L142.64 274.52 L142.81 275.21 L142.99 275.90 L143.16 276.58 L143.34 277.27 L143.52 277.96 L143.69 278.65 L143.87 279.34 L144.05 280.03 L144.23 280.72 L144.41 281.41 L144.59 282.10 L144.77 282.79 L144.96 283.48 L145.14 284.18 L145.33 284.87 L145.51 285.56 L145.70 286.26 L145.89 286.96 L146.08 287.65 L146.27 288.35 L146.46 289.04 L146.66 289.73 L146.86 290.43 L147.06 291.12 L147.27 291.81 L147.48 292.49 L147.70 293.18 L147.92 293.86 L148.14 294.54 L148.38 295.22 L148.61 295.89 L148.86 296.56 L149.11 297.23 L149.37 297.89 L149.63 298.55 L149.90 299.20 L150.18 299.85 L150.47 300.49 L150.77 301.13 L151.08 301.76 L151.39 302.38 L151.72 303.00 L152.06 303.62 L152.40 304.22 L152.76 304.82 L153.13 305.41 L153.51 305.99 L153.90 306.57 L154.31 307.13 L154.72 307.69 L155.15 308.24 L155.60 308.78 L156.05 309.31 L156.52 309.83 L157.01 310.35 L157.51 310.85 L158.02 311.34 L158.55 311.82 L159.08 312.29 L159.63 312.75 L160.20 313.19 L160.77 313.63 L161.35 314.05 L161.94 314.47 L162.54 314.87 L163.15 315.25 L163.77 315.63 L164.39 315.99 L165.02 316.34 L165.66 316.68 L166.30 317.00 L166.94 317.31 L167.59 317.61 L168.25 317.89 L168.90 318.16 L169.56 318.42 L170.22 318.66 L170.89 318.88 L171.55 319.09 L172.22 319.29 L172.88 319.47 L173.55 319.64 L174.22 319.79 L174.88 319.93 L175.55 320.06 L176.22 320.18 L176.90 320.28 L177.57 320.37 L178.24 320.45 L178.92 320.52 L179.59 320.58 L180.27 320.62 L180.95 320.66 L181.62 320.68 L182.30 320.70 L182.98 320.70 L183.66 320.70 L184.34 320.69 L185.02 320.66 L185.71 320.63 L186.39 320.59 L187.07 320.54 L187.76 320.49 L188.44 320.42 L189.13 320.35 L189.81 320.27 L190.50 320.19 L191.19 320.09 L191.88 320.00 L192.56 319.89 L193.25 319.78 L193.94 319.67 L194.63 319.55 L195.32 319.42 L196.01 319.29 L196.70 319.16 L197.39 319.02 L198.09 318.88 L198.78 318.73 L199.47 318.58 L200.16 318.43 L200.86 318.28 L201.55 318.12 L202.24 317.96 L202.94 317.80 L203.63 317.64 L204.32 317.48 L205.02 317.32 L205.71 317.15 L206.41 316.99 L207.10 316.82 L207.80 316.65 L208.49 316.49 L209.19 316.33 L209.88 316.16 L210.57 316.00 L211.27 315.84 L211.96 315.68 L212.66 315.53 L213.35 315.37 L214.05 315.22 L214.74 315.07 L215.44 314.93 L216.13 314.78 L216.83 314.65 L217.52 314.51 L218.21 314.38 L218.91 314.25 L219.60 314.12 L220.30 314.00 L220.99 313.88 L221.68 313.76 L222.38 313.65 L223.07 313.53 L223.76 313.43 L224.46 313.32 L225.15 313.22 L225.84 313.12 L226.54 313.02 L227.23 312.92 L227.92 312.83 L228.61 312.74 L229.31 312.65 L230.00 312.56 L230.69 312.48 L231.39 312.40 L232.08 312.32 L232.77 312.24 L233.46 312.17 L234.16 312.10 L234.85 312.03 L235.54 311.96 L236.24 311.89 L236.93 311.83 L237.62 311.77 L238.32 311.71 L239.01 311.65 L239.70 311.59 L240.39 311.54 L241.09 311.48 L241.78 311.43 L242.47 311.38 L243.17 311.33 L243.86 311.28 L244.56 311.24 L245.25 311.19 L245.94 311.15 L246.64 311.11 L247.33 311.07 L248.02 311.03 L248.72 310.99 L249.41 310.95 L250.11 310.92 L250.80 310.88 L251.50 310.85 L252.19 310.82 L252.89 310.79 L253.58 310.76 L254.28 310.73 L254.97 310.70 L255.67 310.67 L256.36 310.64 L257.06 310.61 L257.76 310.59 L258.45 310.56 L259.15 310.54 L259.85 310.51 L260.54 310.49 L261.24 310.47 L261.94 310.45 L262.63 310.42 L263.33 310.40 L264.03 310.38 L264.73 310.37 L265.42 310.35 L266.12 310.33 L266.82 310.31 L267.52 310.30 L268.21 310.28 L268.91 310.26 L269.61 310.25 L270.31 310.24 L271.01 310.22 L271.71 310.21 L272.40 310.20 L273.10 310.19 L273.80 310.18 L274.50 310.16 L275.20 310.15 L275.90 310.15 L276.60 310.14 L277.30 310.13 L278.00 310.12 L278.70 310.11 L279.40 310.11 L280.10 310.10 L280.80 310.09 L281.50 310.09 L282.20 310.08 L282.90 310.08 L283.60 310.07 L284.30 310.07 L285.00 310.07 L285.70 310.06 L286.40 310.06 L287.10 310.06 L287.80 310.06 L288.50 310.05 L289.20 310.05 L289.90 310.05 L290.60 310.05 L291.30 310.05 L292.00 310.05 L292.70 310.05 L293.41 310.05 L294.11 310.05 L294.81 310.06 L295.51 310.06 L296.21 310.06 L296.91 310.06 L297.61 310.06 L298.31 310.07 L299.01 310.07 L299.72 310.07 L300.42 310.08 L301.12 310.08 L301.82 310.08 L302.52 310.09 L303.22 310.09 L303.92 310.09 L304.62 310.10 L305.33 310.10 L306.03 310.11 L306.73 310.11 L307.43 310.12 L308.13 310.12 L308.83 310.13 L309.53 310.13 L310.23 310.14 L310.94 310.14 L311.64 310.15 L312.34 310.15 L313.04 310.16 L313.74 310.17 L314.44 310.17 L315.14 310.18 L315.84 310.18 L316.55 310.19 L317.25 310.19 L317.95 310.20 L318.65 310.20 L319.35 310.21 L320.05 310.22 L320.75 310.22 L321.45 310.23 L322.15 310.23 L322.85 310.24 L323.56 310.24 L324.26 310.25 L324.96 310.25 L325.66 310.26 L326.36 310.26 L327.06 310.27 L327.76 310.27 L328.46 310.27 L329.16 310.28 L329.86 310.28 L330.56 310.29 L331.26 310.29 L331.96 310.29 L332.66 310.30 L333.36 310.30 L334.06 310.30 L334.76 310.30 L335.46 310.31 L336.16 310.31 L336.86 310.31 L337.56 310.31 L338.26 310.31 L338.96 310.31 L339.66 310.31 L340.36 310.31 L341.05 310.31 L341.75 310.31 L342.45 310.31 L343.15 310.31 L343.85 310.31 L344.55 310.31 L345.25 310.31 L345.94 310.30 L346.64 310.30 L347.34 310.30 L348.04 310.29 L348.74 310.29 L349.43 310.29 L350.13 310.28 L350.83 310.28 L351.53 310.27 L352.22 310.26 L352.92 310.26 L353.62 310.25 L354.31 310.24 L355.01 310.23 L355.71 310.22 L356.40 310.21 L357.10 310.21 L357.79 310.19 L358.49 310.18 L359.19 310.17 L359.88 310.16 L360.58 310.15 L361.27 310.13 L361.97 310.12 L362.66 310.11" fill="none" stroke="#BEBEBE" stroke-width="1.35" stroke-linecap="round" stroke-linejoin="round"/>
<path d="M103.76 340.43 L103.78 339.75 L103.79 339.06 L103.80 338.38 L103.82 337.69 L103.83 337.00 L103.85 336.32 L103.86 335.63 L103.88 334.94 L103.89 334.26 L103.91 333.57 L103.93 332.88 L103.94 332.19 L103.96 331.51 L103.98 330.82 L103.99 330.13 L104.01 329.44 L104.03 328.75 L104.05 328.06 L104.06 327.37 L104.08 326.68 L104.10 325.99 L104.12 325.30 L104.14 324.61 L104.16 323.91 L104.17 323.22 L104.19 322.53 L104.21 321.84 L104.23 321.15 L104.25 320.45 L104.27 319.76 L104.29 319.07 L104.31 318.37 L104.33 317.68 L104.36 316.98 L104.38 316.29 L104.40 315.60 L104.42 314.90 L104.44 314.21 L104.46 313.51 L104.48 312.81 L104.51 312.12 L104.53 311.42 L104.55 310.73 L104.57 310.03 L104.60 309.33 L104.62 308.64 L104.64 307.94 L104.67 307.24 L104.69 306.55 L104.71 305.85 L104.74 305.15 L104.76 304.45 L104.79 303.75 L104.81 303.06 L104.84 302.36 L104.86 301.66 L104.89 300.96 L104.91 300.26 L104.94 299.56 L104.96 298.86 L104.99 298.16 L105.01 297.46 L105.04 296.76 L105.06 296.06 L105.09 295.36 L105.12 294.66 L105.14 293.96 L105.17 293.26 L105.20 292.56 L105.22 291.86 L105.25 291.15 L105.28 290.45 L105.30 289.75 L105.33 289.05 L105.36 288.35 L105.39 287.65 L105.41 286.94 L105.44 286.24 L105.47 285.54 L105.50 284.84 L105.53 284.13 L105.55 283.43 L105.58 282.73 L105.61 282.02 L105.64 281.32 L105.67 280.62 L105.70 279.91 L105.73 279.21 L105.76 278.51 L105.79 277.80 L105.81 277.10 L105.84 276.40 L105.87 275.69 L105.90 274.99 L105.93 274.28 L105.96 273.58 L105.99 272.87 L106.02 272.17 L106.05 271.47 L106.08 270.76 L106.11 270.06 L106.14 269.35 L106.17 268.65 L106.20 267.94 L106.24 267.24 L106.27 266.53 L106.30 265.83 L106.33 265.12 L106.36 264.42 L106.39 263.71 L106.42 263.01 L106.45 262.30 L106.48 261.59 L106.51 260.89 L106.55 260.18 L106.58 259.48 L106.61 258.77 L106.64 258.07 L106.67 257.36 L106.70 256.66 L106.74 255.95 L106.77 255.24 L106.80 254.54 L106.83 253.83 L106.86 253.13 L106.90 252.42 L106.93 251.72 L106.96 251.01 L106.99 250.30 L107.02 249.60 L107.06 248.89 L107.09 248.19 L107.12 247.48 L107.15 246.77 L107.19 246.07 L107.22 245.36 L107.25 244.66 L107.28 243.95 L107.32 243.25 L107.35 242.54 L107.38 241.83 L107.41 241.13 L107.45 240.42 L107.48 239.72 L107.51 239.01 L107.55 238.31 L107.58 237.60 L107.61 236.90 L107.64 236.19 L107.68 235.48 L107.71 234.78 L107.74 234.07 L107.77 233.37 L107.81 232.66 L107.84 231.96 L107.87 231.25 L107.91 230.55 L107.94 229.84 L107.97 229.14 L108.01 228.43 L108.04 227.73 L108.07 227.02 L108.10 226.32 L108.14 225.62 L108.17 224.91 L108.20 224.21 L108.24 223.50 L108.27 222.80 L108.30 222.09 L108.33 221.39 L108.37 220.69 L108.40 219.98 L108.43 219.28 L108.46 218.58 L108.50 217.87 L108.53 217.17 L108.56 216.47 L108.60 215.76 L108.63 215.06 L108.66 214.36 L108.69 213.66 L108.73 212.95 L108.76 212.25 L108.79 211.55 L108.82 210.85 L108.86 210.14 L108.89 209.44 L108.92 208.74 L108.95 208.04 L108.98 207.34 L109.02 206.64 L109.05 205.93 L109.08 205.23 L109.11 204.53 L109.14 203.83 L109.18 203.13 L109.21 202.43 L109.24 201.73 L109.27 201.03 L109.30 200.33 L109.34 199.63 L109.37 198.93 L109.40 198.23 L109.43 197.53 L109.46 196.84 L109.49 196.14 L109.52 195.44 L109.55 194.74 L109.59 194.04 L109.62 193.34 L109.65 192.65 L109.68 191.95 L109.71 191.25 L109.74 190.55 L109.77 189.86 L109.80 189.16 L109.83 188.46 L109.86 187.77 L109.89 187.07 L109.92 186.38 L109.95 185.68 L109.98 184.98 L110.01 184.29 L110.04 183.59 L110.07 182.90 L110.10 182.21 L110.13 181.51 L110.16 180.82 L110.19 180.12 L110.22 179.43 L110.25 178.74 L110.27 178.04 L110.30 177.35 L110.33 176.66 L110.36 175.97 L110.39 175.27 L110.42 174.58 L110.45 173.89 L110.47 173.20 L110.50 172.51 L110.53 171.82 L110.56 171.13 L110.58 170.44 L110.61 169.75 L110.64 169.06 L110.67 168.37 L110.69 167.68 L110.72 166.99 L110.75 166.30 L110.77 165.62 L110.80 164.93 L110.83 164.24 L110.85 163.55 L110.88 162.87 L110.91 162.18 L110.93 161.49 L110.96 160.81 L110.98 160.12 L111.01 159.44 L111.03 158.75 L111.06 158.07 L111.08 157.38 L111.11 156.70 L111.13 156.02 L111.16 155.33 L111.18 154.65 L111.20 153.97 L111.23 153.29 L111.25 152.60 L111.28 151.92 L111.30 151.24 L111.32 150.56 L111.35 149.88 L111.37 149.20 L111.39 148.52 L111.41 147.84 L111.44 147.16 L111.46 146.48 L111.48 145.80 L111.50 145.13 L111.53 144.45 L111.55 143.77 L111.57 143.09 L111.60 142.41 L111.62 141.73 L111.64 141.05 L111.67 140.38 L111.69 139.70 L111.72 139.02 L111.74 138.34 L111.77 137.66 L111.79 136.98 L111.82 136.30 L111.85 135.62 L111.88 134.94 L111.90 134.26 L111.93 133.58 L111.96 132.90 L111.99 132.22 L112.03 131.53 L112.06 130.85 L112.09 130.17 L112.12 129.48 L112.16 128.80 L112.19 128.11 L112.23 127.43 L112.27 126.74 L112.31 126.05 L112.35 125.36 L112.39 124.67 L112.43 123.98 L112.47 123.29 L112.52 122.60 L112.56 121.91 L112.61 121.21 L112.66 120.52 L112.71 119.82 L112.76 119.13 L112.81 118.43 L112.87 117.73 L112.92 117.03 L112.98 116.33 L113.04 115.62 L113.10 114.92 L113.16 114.21 L113.23 113.51 L113.29 112.80 L113.36 112.09 L113.43 111.38 L113.50 110.67 L113.57 109.95 L113.65 109.24 L113.72 108.52 L113.80 107.80 L113.88 107.08 L113.96 106.36 L114.05 105.64 L114.14 104.91 L114.23 104.18 L114.32 103.45 L114.41 102.72 L114.51 101.99 L114.60 101.26 L114.70 100.52 L114.81 99.78 L114.91 99.04 L115.02 98.30 L115.13 97.55 L115.24 96.81 L115.36 96.06 L115.48 95.31 L115.60 94.56 L115.72 93.80 L115.85 93.04 L115.97 92.28 L116.10 91.52 L116.24 90.76 L116.38 89.99 L116.52 89.22 L116.66 88.45 L116.80 87.68 L116.95 86.90 L117.10 86.12 L117.26 85.34 L117.42 84.56 L117.58 83.77 L117.74 82.98 L117.91 82.19 L118.08 81.39 L118.25 80.60 L118.43 79.79 L118.61 78.99 L118.79 78.19 L118.98 77.38 L119.17 76.57 L119.37 75.76 L119.56 74.96 L119.77 74.18 L119.97 73.40 L120.18 72.64 L120.40 71.90 L120.61 71.19 L120.84 70.50 L121.07 69.84 L121.30 69.22 L121.54 68.63 L121.78 68.08 L122.03 67.58 L122.28 67.12 L122.54 66.71 L122.80 66.36 L123.07 66.06 L123.34 65.82 L123.62 65.65 L123.91 65.54 L124.20 65.50 L124.50 65.54 L124.80 65.65 L125.11 65.82 L125.43 66.05 L125.74 66.35 L126.06 66.70 L126.38 67.10 L126.70 67.56 L127.03 68.06 L127.35 68.60 L127.67 69.19 L127.99 69.81 L128.31 70.46 L128.62 71.14 L128.94 71.85 L129.24 72.59 L129.55 73.34 L129.84 74.11 L130.14 74.89 L130.42 75.68 L130.70 76.48 L130.96 77.29 L131.22 78.09 L131.47 78.89 L131.71 79.68 L131.95 80.47 L132.17 81.26 L132.38 82.04 L132.59 82.82 L132.79 83.59 L132.98 84.37 L133.17 85.13 L133.35 85.90 L133.52 86.66 L133.69 87.41 L133.85 88.17 L134.02 88.92 L134.17 89.67 L134.33 90.41 L134.48 91.16 L134.62 91.89 L134.77 92.63 L134.91 93.37 L135.06 94.10 L135.20 94.83 L135.34 95.56 L135.49 96.28 L135.63 97.01 L135.77 97.73 L135.91 98.45 L136.06 99.17 L136.20 99.88 L136.34 100.60 L136.48 101.31 L136.63 102.02 L136.77 102.73 L136.91 103.44 L137.05 104.14 L137.19 104.84 L137.34 105.55 L137.48 106.25 L137.62 106.95 L137.76 107.64 L137.90 108.34 L138.05 109.03 L138.19 109.73 L138.33 110.42 L138.47 111.11 L138.61 111.80 L138.75 112.49 L138.89 113.17 L139.04 113.86 L139.18 114.54 L139.32 115.22 L139.46 115.91 L139.60 116.59 L139.74 117.27 L139.88 117.95 L140.02 118.62 L140.16 119.30 L140.30 119.98 L140.44 120.65 L140.58 121.33 L140.72 122.00 L140.86 122.67 L141.00 123.34 L141.14 124.01 L141.28 124.69 L141.42 125.36 L141.56 126.03 L141.70 126.69 L141.83 127.36 L141.97 128.03 L142.11 128.70 L142.25 129.37 L142.39 130.03 L142.52 130.70 L142.66 131.36 L142.80 132.03 L142.94 132.70 L143.07 133.36 L143.21 134.03 L143.35 134.69 L143.48 135.36 L143.62 136.02 L143.76 136.69 L143.89 137.35 L144.03 138.02 L144.16 138.68 L144.30 139.35 L144.44 140.01 L144.57 140.68 L144.70 141.35 L144.84 142.01 L144.97 142.68 L145.11 143.34 L145.24 144.01 L145.38 144.68 L145.51 145.35 L145.64 146.02 L145.77 146.69 L145.91 147.35 L146.04 148.02 L146.17 148.70 L146.30 149.37 L146.44 150.04 L146.57 150.71 L146.70 151.39 L146.83 152.06 L146.96 152.73 L147.09 153.41 L147.22 154.09 L147.35 154.76 L147.48 155.44 L147.61 156.12 L147.74 156.80 L147.87 157.48 L148.00 158.16 L148.13 158.84 L148.26 159.52 L148.39 160.20 L148.51 160.88 L148.64 161.56 L148.77 162.25 L148.90 162.93 L149.03 163.61 L149.16 164.30 L149.29 164.98 L149.41 165.67 L149.54 166.36 L149.67 167.04 L149.80 167.73 L149.93 168.42 L150.06 169.10 L150.19 169.79 L150.31 170.48 L150.44 171.17 L150.57 171.86 L150.70 172.55 L150.83 173.24 L150.96 173.93 L151.09 174.62 L151.22 175.31 L151.35 176.00 L151.48 176.70 L151.61 177.39 L151.74 178.08 L151.87 178.77 L152.00 179.47 L152.13 180.16 L152.26 180.85 L152.39 181.55 L152.52 182.24 L152.65 182.93 L152.78 183.63 L152.92 184.32 L153.05 185.02 L153.18 185.71 L153.32 186.41 L153.45 187.10 L153.58 187.80 L153.72 188.49 L153.85 189.19 L153.99 189.88 L154.12 190.58 L154.26 191.28 L154.39 191.97 L154.53 192.67 L154.67 193.36 L154.80 194.06 L154.94 194.76 L155.08 195.45 L155.22 196.15 L155.36 196.85 L155.49 197.54 L155.63 198.24 L155.77 198.93 L155.92 199.63 L156.06 200.33 L156.20 201.02 L156.34 201.72 L156.49 202.42 L156.63 203.11 L156.77 203.81 L156.92 204.50 L157.06 205.20 L157.21 205.89 L157.36 206.59 L157.50 207.28 L157.65 207.98 L157.80 208.67 L157.95 209.37 L158.10 210.06 L158.25 210.76 L158.40 211.45 L158.55 212.15 L158.71 212.84 L158.86 213.53 L159.01 214.23 L159.17 214.92 L159.32 215.61 L159.48 216.31 L159.64 217.00 L159.80 217.69 L159.95 218.38 L160.11 219.07 L160.28 219.76 L160.44 220.45 L160.60 221.14 L160.76 221.83 L160.93 222.52 L161.09 223.21 L161.26 223.90 L161.42 224.59 L161.59 225.28 L161.76 225.97 L161.93 226.65 L162.10 227.34 L162.27 228.02 L162.44 228.71 L162.62 229.40 L162.79 230.08 L162.97 230.76 L163.14 231.45 L163.32 232.13 L163.50 232.81 L163.68 233.50 L163.86 234.18 L164.04 234.86 L164.22 235.54 L164.40 236.22 L164.59 236.90 L164.77 237.58 L164.96 238.26 L165.15 238.93 L165.34 239.61 L165.53 240.29 L165.72 240.96 L165.91 241.64 L166.11 242.31 L166.30 242.99 L166.50 243.66 L166.70 244.33 L166.90 245.00 L167.10 245.67 L167.30 246.34 L167.50 247.01 L167.70 247.68 L167.91 248.35 L168.11 249.02 L168.32 249.68 L168.53 250.35 L168.74 251.01 L168.95 251.68 L169.17 252.34 L169.38 253.00 L169.60 253.66 L169.81 254.32 L170.03 254.98 L170.25 255.64 L170.47 256.30 L170.69 256.96 L170.92 257.61 L171.14 258.27 L171.37 258.92 L171.60 259.58 L171.83 260.23 L172.06 260.88 L172.29 261.53 L172.53 262.18 L172.76 262.83 L173.00 263.48 L173.24 264.12 L173.48 264.77 L173.72 265.41 L173.97 266.06 L174.21 266.70 L174.46 267.34 L174.71 267.98 L174.96 268.62 L175.21 269.26 L175.46 269.89 L175.72 270.53 L175.97 271.17 L176.23 271.80 L176.49 272.43 L176.75 273.06 L177.02 273.69 L177.28 274.32 L177.55 274.95 L177.82 275.58 L178.09 276.20 L178.36 276.83 L178.64 277.45 L178.91 278.07 L179.19 278.69 L179.47 279.31 L179.75 279.93 L180.03 280.55 L180.32 281.16 L180.60 281.77 L180.89 282.39 L181.18 283.00 L181.47 283.61 L181.77 284.22 L182.06 284.83 L182.36 285.43 L182.66 286.04 L182.97 286.64 L183.27 287.25 L183.58 287.85 L183.89 288.45 L184.21 289.06 L184.53 289.66 L184.86 290.27 L185.19 290.87 L185.53 291.48 L185.87 292.09 L186.22 292.70 L186.58 293.31 L186.94 293.91 L187.30 294.52 L187.67 295.13 L188.05 295.74 L188.43 296.35 L188.82 296.95 L189.21 297.56 L189.61 298.16 L190.01 298.76 L190.42 299.36 L190.84 299.95 L191.26 300.55 L191.69 301.13 L192.12 301.72 L192.56 302.30 L193.00 302.88 L193.45 303.45 L193.91 304.02 L194.37 304.58 L194.83 305.14 L195.30 305.69 L195.78 306.24 L196.26 306.78 L196.75 307.31 L197.25 307.84 L197.75 308.36 L198.25 308.87 L198.76 309.38 L199.28 309.88 L199.80 310.37 L200.33 310.85 L200.86 311.32 L201.40 311.78 L201.95 312.24 L202.50 312.68 L203.06 313.11 L203.62 313.54 L204.18 313.95 L204.76 314.36 L205.34 314.75 L205.92 315.13 L206.51 315.50 L207.11 315.86 L207.71 316.20 L208.32 316.53 L208.93 316.85 L209.55 317.16 L210.17 317.46 L210.80 317.74 L211.44 318.00 L212.08 318.26 L212.72 318.50 L213.37 318.73 L214.03 318.95 L214.69 319.16 L215.35 319.35 L216.02 319.54 L216.69 319.71 L217.36 319.88 L218.03 320.03 L218.71 320.17 L219.40 320.30 L220.08 320.43 L220.77 320.54 L221.46 320.64 L222.15 320.74 L222.84 320.83 L223.53 320.91 L224.23 320.98 L224.92 321.04 L225.62 321.09 L226.32 321.14 L227.01 321.18 L227.71 321.22 L228.41 321.25 L229.11 321.27 L229.80 321.28 L230.50 321.29 L231.20 321.29 L231.89 321.29 L232.59 321.28 L233.28 321.27 L233.98 321.25 L234.68 321.22 L235.37 321.19 L236.07 321.16 L236.76 321.12 L237.46 321.07 L238.15 321.02 L238.85 320.97 L239.54 320.91 L240.23 320.85 L240.93 320.78 L241.62 320.71 L242.32 320.64 L243.01 320.56 L243.70 320.48 L244.40 320.40 L245.09 320.31 L245.78 320.22 L246.48 320.13 L247.17 320.03 L247.86 319.93 L248.56 319.83 L249.25 319.72 L249.94 319.62 L250.64 319.51 L251.33 319.40 L252.02 319.29 L252.71 319.17 L253.41 319.06 L254.10 318.94 L254.79 318.82 L255.48 318.71 L256.18 318.59 L256.87 318.46 L257.56 318.34 L258.25 318.22 L258.95 318.10 L259.64 317.97 L260.33 317.85 L261.02 317.73 L261.71 317.61 L262.41 317.48 L263.10 317.36 L263.79 317.24 L264.48 317.12 L265.18 317.00 L265.87 316.88 L266.56 316.76 L267.25 316.64 L267.95 316.52 L268.64 316.41 L269.33 316.29 L270.03 316.18 L270.72 316.07 L271.41 315.96 L272.10 315.85 L272.80 315.74 L273.49 315.63 L274.18 315.52 L274.88 315.42 L275.57 315.31 L276.26 315.21 L276.96 315.11 L277.65 315.00 L278.34 314.90 L279.04 314.80 L279.73 314.71 L280.42 314.61 L281.12 314.51 L281.81 314.42 L282.50 314.32 L283.20 314.23 L283.89 314.14 L284.58 314.05 L285.28 313.96 L285.97 313.87 L286.67 313.78 L287.36 313.69 L288.05 313.60 L288.75 313.52 L289.44 313.44 L290.14 313.35 L290.83 313.27 L291.53 313.19 L292.22 313.11 L292.91 313.03 L293.61 312.95 L294.30 312.88 L295.00 312.80 L295.69 312.73 L296.39 312.65 L297.08 312.58 L297.78 312.51 L298.47 312.44 L299.17 312.37 L299.86 312.30 L300.56 312.23 L301.25 312.16 L301.95 312.10 L302.64 312.03 L303.34 311.97 L304.03 311.91 L304.73 311.84 L305.42 311.78 L306.12 311.72 L306.82 311.66 L307.51 311.61 L308.21 311.55 L308.90 311.49 L309.60 311.44 L310.30 311.38 L310.99 311.33 L311.69 311.28 L312.38 311.23 L313.08 311.18 L313.78 311.13 L314.47 311.08 L315.17 311.03 L315.87 310.98 L316.56 310.94 L317.26 310.89 L317.96 310.85 L318.65 310.81 L319.35 310.77 L320.05 310.72 L320.74 310.68 L321.44 310.65 L322.14 310.61 L322.84 310.57 L323.53 310.53 L324.23 310.50 L324.93 310.47 L325.62 310.43 L326.32 310.40 L327.02 310.37 L327.72 310.34 L328.42 310.31 L329.11 310.28 L329.81 310.25 L330.51 310.22 L331.21 310.20 L331.91 310.17 L332.60 310.15 L333.30 310.12 L334.00 310.10 L334.70 310.08 L335.40 310.06 L336.10 310.04 L336.80 310.02 L337.50 310.00 L338.19 309.99 L338.89 309.97 L339.59 309.95 L340.29 309.94 L340.99 309.93 L341.69 309.91 L342.39 309.90 L343.09 309.89 L343.79 309.88 L344.49 309.87 L345.19 309.86 L345.89 309.86 L346.59 309.85 L347.29 309.84 L347.99 309.84 L348.69 309.84 L349.39 309.83 L350.09 309.83 L350.79 309.83 L351.49 309.83 L352.19 309.83 L352.89 309.83 L353.59 309.83 L354.29 309.83 L355.00 309.84 L355.70 309.84 L356.40 309.85 L357.10 309.85 L357.80 309.86 L358.50 309.87 L359.20 309.88 L359.91 309.89 L360.61 309.90 L361.31 309.91 L362.01 309.92 L362.71 309.93" fill="none" stroke="#0000FF" stroke-width="1.35" stroke-linecap="round" stroke-linejoin="round"/>
<path d="M122.93 340.44 L122.96 339.76 L122.99 339.07 L123.03 338.39 L123.06 337.70 L123.09 337.01 L123.13 336.33 L123.16 335.64 L123.19 334.95 L123.23 334.26 L123.26 333.58 L123.29 332.89 L123.33 332.20 L123.36 331.51 L123.39 330.82 L123.42 330.13 L123.46 329.44 L123.49 328.75 L123.52 328.06 L123.55 327.37 L123.59 326.68 L123.62 325.99 L123.65 325.30 L123.68 324.61 L123.72 323.91 L123.75 323.22 L123.78 322.53 L123.81 321.84 L123.85 321.14 L123.88 320.45 L123.91 319.76 L123.94 319.06 L123.98 318.37 L124.01 317.68 L124.04 316.98 L124.07 316.29 L124.10 315.59 L124.14 314.90 L124.17 314.20 L124.20 313.51 L124.23 312.81 L124.26 312.11 L124.30 311.42 L124.33 310.72 L124.36 310.02 L124.39 309.33 L124.42 308.63 L124.45 307.93 L124.49 307.24 L124.52 306.54 L124.55 305.84 L124.58 305.14 L124.61 304.44 L124.65 303.74 L124.68 303.05 L124.71 302.35 L124.74 301.65 L124.77 300.95 L124.80 300.25 L124.84 299.55 L124.87 298.85 L124.90 298.15 L124.93 297.45 L124.96 296.75 L125.00 296.05 L125.03 295.35 L125.06 294.65 L125.09 293.95 L125.12 293.25 L125.16 292.55 L125.19 291.84 L125.22 291.14 L125.25 290.44 L125.28 289.74 L125.32 289.04 L125.35 288.34 L125.38 287.63 L125.41 286.93 L125.44 286.23 L125.48 285.53 L125.51 284.82 L125.54 284.12 L125.57 283.42 L125.61 282.72 L125.64 282.01 L125.67 281.31 L125.70 280.61 L125.73 279.90 L125.77 279.20 L125.80 278.50 L125.83 277.79 L125.86 277.09 L125.90 276.38 L125.93 275.68 L125.96 274.98 L126.00 274.27 L126.03 273.57 L126.06 272.86 L126.09 272.16 L126.13 271.46 L126.16 270.75 L126.19 270.05 L126.23 269.34 L126.26 268.64 L126.29 267.93 L126.33 267.23 L126.36 266.52 L126.39 265.82 L126.43 265.12 L126.46 264.41 L126.49 263.71 L126.53 263.00 L126.56 262.30 L126.59 261.59 L126.63 260.89 L126.66 260.18 L126.70 259.48 L126.73 258.77 L126.76 258.07 L126.80 257.36 L126.83 256.66 L126.87 255.95 L126.90 255.25 L126.94 254.54 L126.97 253.84 L127.00 253.13 L127.04 252.43 L127.07 251.72 L127.11 251.02 L127.14 250.31 L127.18 249.61 L127.21 248.90 L127.25 248.20 L127.29 247.49 L127.32 246.79 L127.36 246.08 L127.39 245.38 L127.43 244.67 L127.46 243.97 L127.50 243.26 L127.53 242.56 L127.57 241.85 L127.61 241.15 L127.64 240.44 L127.68 239.74 L127.72 239.03 L127.75 238.33 L127.79 237.63 L127.83 236.92 L127.86 236.22 L127.90 235.51 L127.94 234.81 L127.97 234.11 L128.01 233.40 L128.05 232.70 L128.09 231.99 L128.12 231.29 L128.16 230.59 L128.20 229.88 L128.24 229.18 L128.28 228.48 L128.32 227.77 L128.35 227.07 L128.39 226.37 L128.43 225.66 L128.47 224.96 L128.51 224.26 L128.55 223.56 L128.59 222.85 L128.63 222.15 L128.67 221.45 L128.70 220.75 L128.74 220.05 L128.78 219.34 L128.82 218.64 L128.86 217.94 L128.90 217.24 L128.95 216.54 L128.99 215.84 L129.03 215.14 L129.07 214.44 L129.11 213.74 L129.15 213.04 L129.19 212.34 L129.23 211.64 L129.27 210.94 L129.32 210.24 L129.36 209.54 L129.40 208.84 L129.44 208.14 L129.48 207.44 L129.53 206.74 L129.57 206.04 L129.61 205.34 L129.65 204.64 L129.70 203.95 L129.74 203.25 L129.78 202.55 L129.83 201.85 L129.87 201.16 L129.92 200.46 L129.96 199.76 L130.00 199.06 L130.05 198.37 L130.09 197.67 L130.14 196.98 L130.18 196.28 L130.23 195.58 L130.27 194.89 L130.32 194.19 L130.36 193.50 L130.41 192.80 L130.46 192.11 L130.50 191.41 L130.55 190.72 L130.59 190.03 L130.64 189.33 L130.69 188.64 L130.74 187.95 L130.78 187.25 L130.83 186.56 L130.88 185.87 L130.93 185.18 L130.97 184.49 L131.02 183.79 L131.07 183.10 L131.12 182.41 L131.17 181.72 L131.22 181.03 L131.27 180.34 L131.32 179.65 L131.37 178.96 L131.42 178.27 L131.47 177.58 L131.52 176.90 L131.57 176.21 L131.62 175.52 L131.67 174.83 L131.72 174.14 L131.77 173.46 L131.82 172.77 L131.87 172.08 L131.92 171.40 L131.98 170.71 L132.03 170.03 L132.08 169.34 L132.13 168.66 L132.19 167.97 L132.24 167.29 L132.29 166.60 L132.35 165.92 L132.40 165.24 L132.46 164.56 L132.51 163.87 L132.57 163.19 L132.62 162.51 L132.67 161.83 L132.73 161.15 L132.79 160.47 L132.84 159.79 L132.90 159.11 L132.95 158.43 L133.01 157.75 L133.07 157.07 L133.12 156.39 L133.18 155.71 L133.24 155.03 L133.30 154.36 L133.35 153.68 L133.41 153.00 L133.47 152.33 L133.53 151.65 L133.59 150.98 L133.65 150.30 L133.71 149.63 L133.77 148.95 L133.83 148.28 L133.89 147.60 L133.95 146.93 L134.01 146.26 L134.07 145.58 L134.13 144.91 L134.19 144.24 L134.25 143.56 L134.32 142.89 L134.38 142.22 L134.44 141.54 L134.50 140.87 L134.57 140.20 L134.63 139.52 L134.69 138.85 L134.76 138.17 L134.82 137.50 L134.89 136.82 L134.95 136.14 L135.02 135.47 L135.09 134.79 L135.15 134.11 L135.22 133.43 L135.29 132.75 L135.35 132.07 L135.42 131.38 L135.49 130.70 L135.56 130.02 L135.63 129.33 L135.70 128.65 L135.77 127.96 L135.84 127.27 L135.91 126.58 L135.98 125.89 L136.05 125.20 L136.12 124.50 L136.20 123.81 L136.27 123.11 L136.34 122.41 L136.42 121.71 L136.49 121.01 L136.57 120.31 L136.64 119.60 L136.72 118.89 L136.79 118.19 L136.87 117.48 L136.95 116.76 L137.03 116.05 L137.10 115.33 L137.18 114.61 L137.26 113.89 L137.34 113.17 L137.42 112.45 L137.50 111.72 L137.58 110.99 L137.66 110.26 L137.75 109.52 L137.83 108.78 L137.91 108.05 L138.00 107.30 L138.08 106.56 L138.17 105.81 L138.25 105.06 L138.34 104.31 L138.42 103.55 L138.51 102.80 L138.60 102.04 L138.70 101.27 L138.79 100.51 L138.89 99.74 L138.99 98.98 L139.10 98.21 L139.21 97.43 L139.32 96.66 L139.44 95.89 L139.56 95.11 L139.69 94.33 L139.83 93.55 L139.97 92.77 L140.11 91.99 L140.27 91.21 L140.43 90.43 L140.60 89.65 L140.78 88.86 L140.96 88.08 L141.16 87.30 L141.36 86.51 L141.57 85.73 L141.79 84.94 L142.03 84.16 L142.27 83.38 L142.52 82.59 L142.79 81.82 L143.06 81.05 L143.34 80.29 L143.63 79.55 L143.93 78.81 L144.23 78.10 L144.55 77.40 L144.87 76.72 L145.20 76.06 L145.53 75.43 L145.87 74.83 L146.22 74.25 L146.58 73.71 L146.94 73.19 L147.30 72.72 L147.67 72.28 L148.04 71.89 L148.42 71.53 L148.80 71.22 L149.19 70.96 L149.57 70.74 L149.96 70.58 L150.36 70.46 L150.75 70.41 L151.15 70.41 L151.55 70.46 L151.95 70.57 L152.35 70.73 L152.75 70.94 L153.15 71.19 L153.55 71.50 L153.95 71.84 L154.35 72.22 L154.75 72.65 L155.14 73.11 L155.53 73.60 L155.92 74.13 L156.31 74.69 L156.69 75.28 L157.07 75.90 L157.45 76.54 L157.82 77.21 L158.18 77.90 L158.54 78.60 L158.89 79.33 L159.24 80.06 L159.58 80.82 L159.91 81.58 L160.24 82.35 L160.56 83.13 L160.87 83.92 L161.17 84.71 L161.46 85.50 L161.75 86.29 L162.03 87.09 L162.30 87.88 L162.56 88.68 L162.82 89.48 L163.07 90.27 L163.32 91.07 L163.56 91.86 L163.80 92.65 L164.04 93.44 L164.27 94.22 L164.50 95.01 L164.73 95.78 L164.95 96.56 L165.18 97.33 L165.40 98.09 L165.62 98.85 L165.84 99.60 L166.06 100.35 L166.28 101.10 L166.49 101.84 L166.71 102.57 L166.92 103.31 L167.13 104.03 L167.34 104.76 L167.55 105.48 L167.76 106.20 L167.96 106.91 L168.17 107.62 L168.37 108.32 L168.57 109.03 L168.77 109.73 L168.97 110.42 L169.17 111.11 L169.37 111.80 L169.57 112.49 L169.76 113.18 L169.96 113.86 L170.15 114.54 L170.34 115.21 L170.54 115.89 L170.73 116.56 L170.92 117.23 L171.10 117.89 L171.29 118.56 L171.48 119.22 L171.66 119.88 L171.85 120.54 L172.03 121.20 L172.22 121.85 L172.40 122.51 L172.58 123.16 L172.76 123.81 L172.94 124.46 L173.12 125.11 L173.30 125.76 L173.47 126.40 L173.65 127.05 L173.82 127.69 L174.00 128.34 L174.17 128.98 L174.35 129.62 L174.52 130.27 L174.69 130.91 L174.87 131.55 L175.04 132.19 L175.21 132.83 L175.38 133.48 L175.55 134.12 L175.72 134.76 L175.89 135.40 L176.05 136.04 L176.22 136.69 L176.39 137.33 L176.56 137.97 L176.72 138.62 L176.89 139.27 L177.05 139.91 L177.22 140.56 L177.38 141.21 L177.55 141.86 L177.71 142.51 L177.88 143.16 L178.04 143.81 L178.20 144.46 L178.37 145.11 L178.53 145.77 L178.69 146.42 L178.85 147.08 L179.02 147.73 L179.18 148.39 L179.34 149.05 L179.50 149.70 L179.66 150.36 L179.82 151.02 L179.98 151.68 L180.14 152.34 L180.31 153.00 L180.47 153.67 L180.63 154.33 L180.79 154.99 L180.95 155.65 L181.11 156.32 L181.27 156.98 L181.43 157.65 L181.59 158.31 L181.75 158.98 L181.91 159.65 L182.07 160.31 L182.23 160.98 L182.39 161.65 L182.55 162.32 L182.71 162.99 L182.87 163.66 L183.03 164.33 L183.19 165.00 L183.36 165.67 L183.52 166.34 L183.68 167.01 L183.84 167.68 L184.00 168.36 L184.16 169.03 L184.33 169.70 L184.49 170.38 L184.65 171.05 L184.81 171.73 L184.98 172.40 L185.14 173.07 L185.30 173.75 L185.47 174.43 L185.63 175.10 L185.80 175.78 L185.96 176.45 L186.13 177.13 L186.29 177.81 L186.46 178.49 L186.63 179.16 L186.79 179.84 L186.96 180.52 L187.13 181.20 L187.30 181.88 L187.47 182.55 L187.64 183.23 L187.81 183.91 L187.98 184.59 L188.15 185.27 L188.32 185.95 L188.49 186.63 L188.66 187.31 L188.84 187.99 L189.01 188.67 L189.19 189.35 L189.36 190.03 L189.54 190.71 L189.71 191.39 L189.89 192.07 L190.07 192.75 L190.25 193.43 L190.43 194.11 L190.61 194.79 L190.79 195.47 L190.97 196.15 L191.15 196.83 L191.33 197.51 L191.52 198.18 L191.70 198.86 L191.88 199.54 L192.07 200.22 L192.26 200.90 L192.45 201.58 L192.63 202.26 L192.82 202.94 L193.01 203.62 L193.20 204.30 L193.40 204.98 L193.59 205.66 L193.78 206.33 L193.98 207.01 L194.17 207.69 L194.37 208.37 L194.57 209.05 L194.77 209.72 L194.97 210.40 L195.17 211.08 L195.37 211.75 L195.57 212.43 L195.78 213.11 L195.98 213.78 L196.19 214.46 L196.40 215.13 L196.61 215.81 L196.82 216.48 L197.03 217.16 L197.24 217.83 L197.45 218.50 L197.67 219.18 L197.88 219.85 L198.10 220.52 L198.32 221.19 L198.54 221.87 L198.76 222.54 L198.98 223.21 L199.20 223.88 L199.43 224.55 L199.65 225.22 L199.88 225.89 L200.11 226.55 L200.34 227.22 L200.57 227.89 L200.80 228.56 L201.04 229.22 L201.27 229.89 L201.51 230.55 L201.75 231.22 L201.99 231.88 L202.23 232.55 L202.47 233.21 L202.72 233.87 L202.96 234.53 L203.21 235.20 L203.46 235.86 L203.71 236.52 L203.96 237.18 L204.22 237.83 L204.47 238.49 L204.73 239.15 L204.99 239.81 L205.25 240.46 L205.51 241.12 L205.77 241.77 L206.04 242.43 L206.30 243.08 L206.57 243.73 L206.84 244.38 L207.11 245.04 L207.39 245.69 L207.66 246.34 L207.94 246.98 L208.22 247.63 L208.50 248.28 L208.78 248.92 L209.06 249.57 L209.35 250.21 L209.64 250.86 L209.93 251.50 L210.22 252.14 L210.51 252.78 L210.81 253.42 L211.10 254.06 L211.40 254.70 L211.71 255.34 L212.01 255.98 L212.31 256.61 L212.62 257.25 L212.93 257.88 L213.24 258.51 L213.55 259.14 L213.87 259.77 L214.19 260.40 L214.50 261.03 L214.83 261.66 L215.15 262.29 L215.47 262.91 L215.80 263.54 L216.13 264.16 L216.46 264.78 L216.80 265.40 L217.13 266.02 L217.47 266.64 L217.81 267.26 L218.16 267.88 L218.50 268.49 L218.85 269.11 L219.20 269.72 L219.55 270.33 L219.90 270.94 L220.26 271.55 L220.62 272.16 L220.98 272.77 L221.34 273.38 L221.71 273.98 L222.07 274.59 L222.44 275.19 L222.82 275.79 L223.19 276.39 L223.57 276.99 L223.95 277.59 L224.33 278.18 L224.72 278.78 L225.10 279.37 L225.49 279.96 L225.89 280.55 L226.28 281.14 L226.68 281.73 L227.08 282.32 L227.48 282.90 L227.88 283.49 L228.29 284.07 L228.70 284.65 L229.11 285.23 L229.53 285.81 L229.95 286.39 L230.37 286.96 L230.79 287.53 L231.22 288.11 L231.64 288.68 L232.08 289.24 L232.51 289.81 L232.95 290.37 L233.39 290.93 L233.83 291.49 L234.27 292.05 L234.72 292.60 L235.17 293.15 L235.62 293.70 L236.08 294.24 L236.54 294.78 L237.00 295.32 L237.47 295.86 L237.94 296.39 L238.41 296.92 L238.88 297.44 L239.36 297.97 L239.84 298.49 L240.32 299.00 L240.81 299.51 L241.30 300.02 L241.79 300.52 L242.29 301.02 L242.78 301.51 L243.29 302.00 L243.79 302.49 L244.30 302.97 L244.81 303.45 L245.33 303.92 L245.84 304.39 L246.37 304.85 L246.89 305.31 L247.42 305.76 L247.95 306.21 L248.48 306.65 L249.02 307.09 L249.56 307.52 L250.11 307.95 L250.66 308.37 L251.21 308.78 L251.76 309.19 L252.32 309.59 L252.88 309.99 L253.45 310.38 L254.02 310.77 L254.59 311.15 L255.16 311.52 L255.74 311.89 L256.33 312.24 L256.91 312.60 L257.50 312.94 L258.10 313.28 L258.70 313.62 L259.30 313.94 L259.90 314.26 L260.51 314.57 L261.12 314.88 L261.74 315.17 L262.36 315.46 L262.98 315.74 L263.61 316.02 L264.24 316.28 L264.88 316.54 L265.52 316.79 L266.16 317.04 L266.81 317.27 L267.46 317.50 L268.11 317.72 L268.77 317.93 L269.43 318.13 L270.09 318.33 L270.76 318.52 L271.43 318.70 L272.10 318.88 L272.78 319.05 L273.46 319.21 L274.14 319.37 L274.82 319.51 L275.51 319.66 L276.20 319.79 L276.89 319.92 L277.58 320.05 L278.27 320.16 L278.97 320.28 L279.67 320.38 L280.37 320.48 L281.07 320.58 L281.77 320.66 L282.48 320.75 L283.18 320.83 L283.89 320.90 L284.59 320.97 L285.30 321.03 L286.01 321.09 L286.72 321.14 L287.43 321.19 L288.14 321.23 L288.85 321.27 L289.56 321.31 L290.28 321.34 L290.99 321.37 L291.70 321.39 L292.41 321.41 L293.12 321.42 L293.83 321.43 L294.54 321.44 L295.25 321.45 L295.96 321.45 L296.67 321.44 L297.37 321.44 L298.08 321.43 L298.79 321.42 L299.49 321.40 L300.19 321.38 L300.90 321.36 L301.60 321.34 L302.30 321.31 L303.00 321.29 L303.70 321.25 L304.40 321.22 L305.10 321.18 L305.80 321.14 L306.50 321.10 L307.20 321.06 L307.89 321.01 L308.59 320.96 L309.29 320.91 L309.98 320.86 L310.68 320.80 L311.37 320.75 L312.07 320.69 L312.76 320.63 L313.45 320.56 L314.15 320.50 L314.84 320.43 L315.53 320.36 L316.22 320.29 L316.91 320.22 L317.61 320.15 L318.30 320.08 L318.99 320.00 L319.68 319.93 L320.37 319.85 L321.06 319.77 L321.75 319.69 L322.44 319.61 L323.13 319.53 L323.82 319.44 L324.51 319.36 L325.20 319.27 L325.88 319.19 L326.57 319.10 L327.26 319.02 L327.95 318.93 L328.64 318.84 L329.33 318.75 L330.02 318.67 L330.71 318.58 L331.40 318.49 L332.09 318.40 L332.77 318.31 L333.46 318.22 L334.15 318.13 L334.84 318.04 L335.53 317.95 L336.22 317.86 L336.91 317.77 L337.60 317.68 L338.29 317.59 L338.99 317.51 L339.68 317.42 L340.37 317.33 L341.06 317.25 L341.75 317.16 L342.44 317.07 L343.14 316.99 L343.83 316.91 L344.52 316.82 L345.22 316.74 L345.91 316.66 L346.61 316.58 L347.30 316.50 L348.00 316.42 L348.70 316.35 L349.39 316.27 L350.09 316.20 L350.79 316.13 L351.49 316.06 L352.19 315.99 L352.89 315.92 L353.59 315.85 L354.29 315.79 L354.99 315.73 L355.69 315.67 L356.40 315.61 L357.10 315.55 L357.80 315.50 L358.51 315.44 L359.22 315.39 L359.92 315.35 L360.63 315.30 L361.34 315.26 L362.05 315.21 L362.76 315.18" fill="none" stroke="#A52A2A" stroke-width="1.35" stroke-linecap="round" stroke-linejoin="round"/>
<path d="M156.91 340.45 L156.96 339.76 L157.00 339.07 L157.05 338.38 L157.10 337.69 L157.14 337.00 L157.19 336.31 L157.24 335.62 L157.28 334.92 L157.33 334.23 L157.38 333.54 L157.42 332.85 L157.47 332.16 L157.52 331.47 L157.56 330.78 L157.61 330.09 L157.66 329.39 L157.70 328.70 L157.75 328.01 L157.80 327.32 L157.85 326.62 L157.89 325.93 L157.94 325.24 L157.99 324.55 L158.03 323.85 L158.08 323.16 L158.13 322.47 L158.18 321.77 L158.22 321.08 L158.27 320.39 L158.32 319.69 L158.37 319.00 L158.41 318.30 L158.46 317.61 L158.51 316.91 L158.56 316.22 L158.60 315.53 L158.65 314.83 L158.70 314.14 L158.75 313.44 L158.80 312.75 L158.84 312.05 L158.89 311.35 L158.94 310.66 L158.99 309.96 L159.04 309.27 L159.09 308.57 L159.13 307.88 L159.18 307.18 L159.23 306.48 L159.28 305.79 L159.33 305.09 L159.38 304.39 L159.43 303.70 L159.48 303.00 L159.53 302.30 L159.57 301.61 L159.62 300.91 L159.67 300.21 L159.72 299.52 L159.77 298.82 L159.82 298.12 L159.87 297.42 L159.92 296.73 L159.97 296.03 L160.02 295.33 L160.07 294.63 L160.12 293.94 L160.17 293.24 L160.22 292.54 L160.27 291.84 L160.33 291.14 L160.38 290.45 L160.43 289.75 L160.48 289.05 L160.53 288.35 L160.58 287.65 L160.63 286.95 L160.68 286.25 L160.74 285.56 L160.79 284.86 L160.84 284.16 L160.89 283.46 L160.94 282.76 L161.00 282.06 L161.05 281.36 L161.10 280.66 L161.15 279.96 L161.21 279.26 L161.26 278.57 L161.31 277.87 L161.36 277.17 L161.42 276.47 L161.47 275.77 L161.52 275.07 L161.58 274.37 L161.63 273.67 L161.69 272.97 L161.74 272.27 L161.79 271.57 L161.85 270.87 L161.90 270.17 L161.96 269.47 L162.01 268.77 L162.07 268.07 L162.12 267.37 L162.18 266.67 L162.23 265.97 L162.29 265.27 L162.35 264.57 L162.40 263.87 L162.46 263.17 L162.51 262.47 L162.57 261.77 L162.63 261.07 L162.68 260.37 L162.74 259.67 L162.80 258.97 L162.85 258.27 L162.91 257.57 L162.97 256.87 L163.03 256.17 L163.08 255.47 L163.14 254.77 L163.20 254.07 L163.26 253.37 L163.32 252.67 L163.38 251.97 L163.44 251.27 L163.49 250.57 L163.55 249.87 L163.61 249.17 L163.67 248.47 L163.73 247.77 L163.79 247.07 L163.85 246.37 L163.91 245.67 L163.97 244.97 L164.04 244.27 L164.10 243.57 L164.16 242.87 L164.22 242.17 L164.28 241.47 L164.34 240.77 L164.40 240.07 L164.47 239.37 L164.53 238.67 L164.59 237.97 L164.65 237.27 L164.72 236.57 L164.78 235.87 L164.84 235.17 L164.91 234.48 L164.97 233.78 L165.04 233.08 L165.10 232.38 L165.16 231.68 L165.23 230.98 L165.29 230.28 L165.36 229.58 L165.42 228.88 L165.49 228.18 L165.56 227.48 L165.62 226.78 L165.69 226.09 L165.75 225.39 L165.82 224.69 L165.89 223.99 L165.96 223.29 L166.02 222.59 L166.09 221.89 L166.16 221.19 L166.23 220.50 L166.30 219.80 L166.36 219.10 L166.43 218.40 L166.50 217.70 L166.57 217.01 L166.64 216.31 L166.71 215.61 L166.78 214.91 L166.85 214.21 L166.92 213.52 L166.99 212.82 L167.06 212.12 L167.14 211.42 L167.21 210.73 L167.28 210.03 L167.35 209.33 L167.42 208.64 L167.50 207.94 L167.57 207.24 L167.64 206.55 L167.72 205.85 L167.79 205.15 L167.86 204.46 L167.94 203.76 L168.01 203.06 L168.09 202.37 L168.16 201.67 L168.24 200.98 L168.31 200.28 L168.39 199.58 L168.47 198.89 L168.54 198.19 L168.62 197.50 L168.70 196.80 L168.77 196.11 L168.85 195.41 L168.93 194.72 L169.01 194.02 L169.08 193.33 L169.16 192.64 L169.24 191.94 L169.32 191.25 L169.40 190.55 L169.48 189.86 L169.56 189.17 L169.64 188.47 L169.72 187.78 L169.80 187.08 L169.89 186.39 L169.97 185.70 L170.05 185.01 L170.13 184.31 L170.21 183.62 L170.30 182.93 L170.38 182.24 L170.46 181.54 L170.55 180.85 L170.63 180.16 L170.72 179.47 L170.80 178.78 L170.89 178.08 L170.97 177.39 L171.06 176.70 L171.14 176.01 L171.23 175.32 L171.32 174.63 L171.40 173.94 L171.49 173.25 L171.58 172.56 L171.67 171.87 L171.76 171.18 L171.84 170.49 L171.93 169.80 L172.02 169.11 L172.11 168.42 L172.20 167.73 L172.29 167.04 L172.38 166.36 L172.47 165.67 L172.57 164.98 L172.66 164.29 L172.75 163.60 L172.84 162.92 L172.94 162.23 L173.03 161.54 L173.12 160.85 L173.22 160.17 L173.31 159.48 L173.40 158.79 L173.50 158.11 L173.59 157.42 L173.69 156.74 L173.79 156.05 L173.88 155.37 L173.98 154.68 L174.08 153.99 L174.17 153.31 L174.27 152.63 L174.37 151.94 L174.47 151.26 L174.57 150.57 L174.67 149.89 L174.77 149.21 L174.87 148.52 L174.97 147.84 L175.07 147.16 L175.17 146.47 L175.27 145.79 L175.37 145.11 L175.47 144.43 L175.58 143.75 L175.68 143.06 L175.78 142.38 L175.89 141.70 L175.99 141.02 L176.10 140.34 L176.20 139.66 L176.31 138.98 L176.41 138.30 L176.52 137.62 L176.63 136.94 L176.73 136.26 L176.84 135.58 L176.95 134.90 L177.06 134.23 L177.16 133.55 L177.27 132.87 L177.38 132.19 L177.49 131.51 L177.60 130.84 L177.71 130.16 L177.82 129.48 L177.94 128.81 L178.05 128.13 L178.16 127.45 L178.28 126.78 L178.39 126.10 L178.51 125.42 L178.63 124.74 L178.75 124.07 L178.87 123.39 L178.99 122.71 L179.12 122.02 L179.25 121.34 L179.38 120.66 L179.51 119.97 L179.64 119.29 L179.78 118.60 L179.92 117.91 L180.07 117.22 L180.21 116.52 L180.37 115.83 L180.52 115.13 L180.68 114.43 L180.84 113.73 L181.01 113.03 L181.17 112.32 L181.35 111.61 L181.53 110.90 L181.71 110.18 L181.90 109.46 L182.09 108.74 L182.29 108.02 L182.49 107.29 L182.70 106.56 L182.91 105.82 L183.13 105.09 L183.36 104.34 L183.59 103.60 L183.83 102.85 L184.07 102.11 L184.33 101.36 L184.60 100.61 L184.88 99.87 L185.17 99.13 L185.47 98.40 L185.79 97.67 L186.13 96.96 L186.48 96.24 L186.85 95.54 L187.24 94.85 L187.64 94.18 L188.07 93.51 L188.52 92.86 L188.98 92.23 L189.46 91.62 L189.96 91.04 L190.47 90.48 L190.98 89.96 L191.51 89.47 L192.04 89.02 L192.57 88.61 L193.11 88.25 L193.64 87.94 L194.17 87.67 L194.71 87.46 L195.24 87.29 L195.76 87.16 L196.29 87.08 L196.81 87.04 L197.34 87.04 L197.86 87.08 L198.37 87.16 L198.89 87.28 L199.40 87.43 L199.91 87.61 L200.42 87.83 L200.93 88.08 L201.43 88.36 L201.93 88.67 L202.43 89.01 L202.92 89.37 L203.42 89.76 L203.90 90.17 L204.39 90.61 L204.87 91.06 L205.35 91.53 L205.82 92.03 L206.29 92.53 L206.76 93.06 L207.23 93.59 L207.69 94.14 L208.14 94.71 L208.59 95.28 L209.04 95.86 L209.49 96.44 L209.92 97.04 L210.36 97.63 L210.79 98.24 L211.22 98.84 L211.64 99.44 L212.06 100.05 L212.47 100.65 L212.88 101.26 L213.28 101.87 L213.68 102.48 L214.08 103.09 L214.47 103.70 L214.86 104.32 L215.24 104.93 L215.62 105.55 L215.99 106.16 L216.37 106.78 L216.73 107.40 L217.10 108.02 L217.46 108.64 L217.82 109.27 L218.17 109.89 L218.52 110.51 L218.87 111.14 L219.21 111.76 L219.55 112.39 L219.89 113.02 L220.22 113.65 L220.55 114.28 L220.88 114.91 L221.20 115.54 L221.52 116.17 L221.84 116.81 L222.16 117.44 L222.47 118.08 L222.78 118.71 L223.09 119.35 L223.39 119.98 L223.70 120.62 L224.00 121.26 L224.29 121.90 L224.59 122.54 L224.88 123.18 L225.17 123.82 L225.46 124.46 L225.75 125.10 L226.03 125.75 L226.31 126.39 L226.59 127.03 L226.87 127.68 L227.15 128.32 L227.42 128.97 L227.70 129.61 L227.97 130.26 L228.24 130.91 L228.51 131.55 L228.77 132.20 L229.04 132.85 L229.30 133.50 L229.56 134.15 L229.83 134.79 L230.09 135.44 L230.34 136.09 L230.60 136.74 L230.86 137.39 L231.12 138.04 L231.37 138.69 L231.62 139.34 L231.88 139.99 L232.13 140.64 L232.38 141.29 L232.63 141.95 L232.88 142.60 L233.13 143.25 L233.38 143.90 L233.63 144.55 L233.88 145.20 L234.13 145.85 L234.38 146.50 L234.63 147.15 L234.88 147.81 L235.13 148.46 L235.37 149.11 L235.62 149.76 L235.87 150.41 L236.12 151.06 L236.37 151.71 L236.62 152.36 L236.87 153.01 L237.12 153.66 L237.37 154.31 L237.62 154.96 L237.87 155.61 L238.12 156.26 L238.37 156.91 L238.62 157.56 L238.87 158.21 L239.12 158.86 L239.37 159.50 L239.62 160.15 L239.88 160.80 L240.13 161.45 L240.38 162.10 L240.63 162.75 L240.89 163.39 L241.14 164.04 L241.39 164.69 L241.65 165.34 L241.90 165.98 L242.16 166.63 L242.41 167.28 L242.67 167.92 L242.93 168.57 L243.18 169.22 L243.44 169.86 L243.70 170.51 L243.96 171.15 L244.21 171.80 L244.47 172.44 L244.73 173.09 L244.99 173.73 L245.25 174.38 L245.51 175.02 L245.77 175.67 L246.03 176.31 L246.30 176.95 L246.56 177.60 L246.82 178.24 L247.09 178.88 L247.35 179.53 L247.62 180.17 L247.88 180.81 L248.15 181.45 L248.41 182.09 L248.68 182.74 L248.95 183.38 L249.22 184.02 L249.48 184.66 L249.75 185.30 L250.02 185.94 L250.29 186.58 L250.57 187.22 L250.84 187.86 L251.11 188.50 L251.38 189.14 L251.66 189.78 L251.93 190.42 L252.21 191.05 L252.48 191.69 L252.76 192.33 L253.04 192.97 L253.31 193.60 L253.59 194.24 L253.87 194.88 L254.15 195.51 L254.43 196.15 L254.72 196.79 L255.00 197.42 L255.28 198.06 L255.57 198.69 L255.85 199.33 L256.14 199.96 L256.42 200.59 L256.71 201.23 L257.00 201.86 L257.29 202.49 L257.58 203.13 L257.87 203.76 L258.16 204.39 L258.45 205.02 L258.75 205.65 L259.04 206.29 L259.33 206.92 L259.63 207.55 L259.93 208.18 L260.23 208.81 L260.52 209.44 L260.82 210.07 L261.12 210.69 L261.43 211.32 L261.73 211.95 L262.03 212.58 L262.34 213.21 L262.64 213.83 L262.95 214.46 L263.26 215.09 L263.57 215.71 L263.88 216.34 L264.19 216.96 L264.50 217.59 L264.81 218.21 L265.12 218.84 L265.44 219.46 L265.76 220.08 L266.07 220.71 L266.39 221.33 L266.71 221.95 L267.03 222.57 L267.35 223.19 L267.67 223.82 L268.00 224.44 L268.32 225.06 L268.65 225.68 L268.98 226.30 L269.30 226.91 L269.63 227.53 L269.96 228.15 L270.30 228.77 L270.63 229.39 L270.96 230.00 L271.30 230.62 L271.64 231.24 L271.97 231.85 L272.31 232.47 L272.65 233.08 L273.00 233.70 L273.34 234.31 L273.68 234.92 L274.03 235.54 L274.38 236.15 L274.72 236.76 L275.07 237.38 L275.43 237.99 L275.78 238.60 L276.13 239.21 L276.49 239.82 L276.84 240.43 L277.20 241.04 L277.56 241.65 L277.92 242.25 L278.28 242.86 L278.64 243.47 L279.01 244.07 L279.37 244.68 L279.74 245.29 L280.11 245.89 L280.48 246.49 L280.85 247.10 L281.23 247.70 L281.60 248.30 L281.98 248.90 L282.36 249.50 L282.73 250.10 L283.11 250.69 L283.50 251.29 L283.88 251.89 L284.27 252.48 L284.65 253.08 L285.04 253.67 L285.43 254.26 L285.82 254.85 L286.22 255.44 L286.61 256.03 L287.01 256.62 L287.40 257.20 L287.80 257.79 L288.20 258.37 L288.61 258.95 L289.01 259.53 L289.42 260.11 L289.82 260.69 L290.23 261.27 L290.64 261.84 L291.06 262.42 L291.47 262.99 L291.89 263.56 L292.31 264.13 L292.72 264.70 L293.15 265.27 L293.57 265.83 L293.99 266.40 L294.42 266.96 L294.85 267.52 L295.28 268.08 L295.71 268.63 L296.14 269.19 L296.58 269.74 L297.01 270.29 L297.45 270.84 L297.89 271.39 L298.34 271.94 L298.78 272.48 L299.23 273.03 L299.67 273.57 L300.12 274.10 L300.57 274.64 L301.03 275.18 L301.48 275.71 L301.94 276.24 L302.40 276.77 L302.86 277.29 L303.32 277.82 L303.79 278.34 L304.26 278.86 L304.72 279.38 L305.20 279.89 L305.67 280.41 L306.14 280.92 L306.62 281.43 L307.10 281.93 L307.58 282.44 L308.06 282.94 L308.55 283.44 L309.03 283.93 L309.52 284.43 L310.01 284.92 L310.51 285.41 L311.00 285.89 L311.50 286.38 L312.00 286.86 L312.50 287.34 L313.00 287.81 L313.51 288.29 L314.01 288.76 L314.52 289.23 L315.03 289.69 L315.55 290.15 L316.06 290.61 L316.58 291.07 L317.10 291.53 L317.62 291.98 L318.15 292.42 L318.68 292.87 L319.20 293.31 L319.74 293.75 L320.27 294.19 L320.80 294.62 L321.34 295.05 L321.88 295.48 L322.42 295.90 L322.97 296.33 L323.52 296.74 L324.06 297.16 L324.62 297.57 L325.17 297.98 L325.73 298.38 L326.28 298.78 L326.84 299.18 L327.41 299.58 L327.97 299.97 L328.54 300.36 L329.11 300.74 L329.68 301.13 L330.26 301.50 L330.83 301.88 L331.41 302.25 L331.99 302.62 L332.58 302.98 L333.16 303.34 L333.75 303.70 L334.35 304.05 L334.94 304.40 L335.54 304.75 L336.13 305.09 L336.74 305.43 L337.34 305.76 L337.94 306.09 L338.55 306.42 L339.16 306.74 L339.78 307.06 L340.39 307.38 L341.01 307.69 L341.63 308.00 L342.26 308.30 L342.88 308.60 L343.51 308.90 L344.14 309.19 L344.78 309.48 L345.41 309.76 L346.05 310.04 L346.70 310.31 L347.34 310.58 L347.99 310.85 L348.64 311.11 L349.29 311.37 L349.94 311.63 L350.60 311.87 L351.26 312.12 L351.92 312.36 L352.59 312.60 L353.26 312.83 L353.93 313.06 L354.60 313.28 L355.28 313.50 L355.96 313.71 L356.64 313.92 L357.32 314.13 L358.01 314.33 L358.70 314.53 L359.39 314.72 L360.09 314.90 L360.79 315.09 L361.49 315.26 L362.19 315.44 L362.90 315.60" fill="none" stroke="#00FF00" stroke-width="1.35" stroke-linecap="round" stroke-linejoin="round"/>
<g clip-path="url(#bc)"><path d="M103.76 340.43 L103.78 339.75 L103.79 339.06 L103.80 338.38 L103.82 337.69 L103.83 337.00 L103.85 336.32 L103.86 335.63 L103.88 334.94 L103.89 334.26 L103.91 333.57 L103.93 332.88 L103.94 332.19 L103.96 331.51 L103.98 330.82 L103.99 330.13 L104.01 329.44 L104.03 328.75 L104.05 328.06 L104.06 327.37 L104.08 326.68 L104.10 325.99 L104.12 325.30 L104.14 324.61 L104.16 323.91 L104.17 323.22 L104.19 322.53 L104.21 321.84 L104.23 321.15 L104.25 320.45 L104.27 319.76 L104.29 319.07 L104.31 318.37 L104.33 317.68 L104.36 316.98 L104.38 316.29 L104.40 315.60 L104.42 314.90 L104.44 314.21 L104.46 313.51 L104.48 312.81 L104.51 312.12 L104.53 311.42 L104.55 310.73 L104.57 310.03 L104.60 309.33 L104.62 308.64 L104.64 307.94 L104.67 307.24 L104.69 306.55 L104.71 305.85 L104.74 305.15 L104.76 304.45 L104.79 303.75 L104.81 303.06 L104.84 302.36 L104.86 301.66 L104.89 300.96 L104.91 300.26 L104.94 299.56 L104.96 298.86 L104.99 298.16 L105.01 297.46 L105.04 296.76 L105.06 296.06 L105.09 295.36 L105.12 294.66 L105.14 293.96 L105.17 293.26 L105.20 292.56 L105.22 291.86 L105.25 291.15 L105.28 290.45 L105.30 289.75 L105.33 289.05 L105.36 288.35 L105.39 287.65 L105.41 286.94 L105.44 286.24 L105.47 285.54 L105.50 284.84 L105.53 284.13 L105.55 283.43 L105.58 282.73 L105.61 282.02 L105.64 281.32 L105.67 280.62 L105.70 279.91 L105.73 279.21 L105.76 278.51 L105.79 277.80 L105.81 277.10 L105.84 276.40 L105.87 275.69 L105.90 274.99 L105.93 274.28 L105.96 273.58 L105.99 272.87 L106.02 272.17 L106.05 271.47 L106.08 270.76 L106.11 270.06 L106.14 269.35 L106.17 268.65 L106.20 267.94 L106.24 267.24 L106.27 266.53 L106.30 265.83 L106.33 265.12 L106.36 264.42 L106.39 263.71 L106.42 263.01 L106.45 262.30 L106.48 261.59 L106.51 260.89 L106.55 260.18 L106.58 259.48 L106.61 258.77 L106.64 258.07 L106.67 257.36 L106.70 256.66 L106.74 255.95 L106.77 255.24 L106.80 254.54 L106.83 253.83 L106.86 253.13 L106.90 252.42 L106.93 251.72 L106.96 251.01 L106.99 250.30 L107.02 249.60 L107.06 248.89 L107.09 248.19 L107.12 247.48 L107.15 246.77 L107.19 246.07 L107.22 245.36 L107.25 244.66 L107.28 243.95 L107.32 243.25 L107.35 242.54 L107.38 241.83 L107.41 241.13 L107.45 240.42 L107.48 239.72 L107.51 239.01 L107.55 238.31 L107.58 237.60 L107.61 236.90 L107.64 236.19 L107.68 235.48 L107.71 234.78 L107.74 234.07 L107.77 233.37 L107.81 232.66 L107.84 231.96 L107.87 231.25 L107.91 230.55 L107.94 229.84 L107.97 229.14 L108.01 228.43 L108.04 227.73 L108.07 227.02 L108.10 226.32 L108.14 225.62 L108.17 224.91 L108.20 224.21 L108.24 223.50 L108.27 222.80 L108.30 222.09 L108.33 221.39 L108.37 220.69 L108.40 219.98 L108.43 219.28 L108.46 218.58 L108.50 217.87 L108.53 217.17 L108.56 216.47 L108.60 215.76 L108.63 215.06 L108.66 214.36 L108.69 213.66 L108.73 212.95 L108.76 212.25 L108.79 211.55 L108.82 210.85 L108.86 210.14 L108.89 209.44 L108.92 208.74 L108.95 208.04 L108.98 207.34 L109.02 206.64 L109.05 205.93 L109.08 205.23 L109.11 204.53 L109.14 203.83 L109.18 203.13 L109.21 202.43 L109.24 201.73 L109.27 201.03 L109.30 200.33 L109.34 199.63 L109.37 198.93 L109.40 198.23 L109.43 197.53 L109.46 196.84 L109.49 196.14 L109.52 195.44 L109.55 194.74 L109.59 194.04 L109.62 193.34 L109.65 192.65 L109.68 191.95 L109.71 191.25 L109.74 190.55 L109.77 189.86 L109.80 189.16 L109.83 188.46 L109.86 187.77 L109.89 187.07 L109.92 186.38 L109.95 185.68 L109.98 184.98 L110.01 184.29 L110.04 183.59 L110.07 182.90 L110.10 182.21 L110.13 181.51 L110.16 180.82 L110.19 180.12 L110.22 179.43 L110.25 178.74 L110.27 178.04 L110.30 177.35 L110.33 176.66 L110.36 175.97 L110.39 175.27 L110.42 174.58 L110.45 173.89 L110.47 173.20 L110.50 172.51 L110.53 171.82 L110.56 171.13 L110.58 170.44 L110.61 169.75 L110.64 169.06 L110.67 168.37 L110.69 167.68 L110.72 166.99 L110.75 166.30 L110.77 165.62 L110.80 164.93 L110.83 164.24 L110.85 163.55 L110.88 162.87 L110.91 162.18 L110.93 161.49 L110.96 160.81 L110.98 160.12 L111.01 159.44 L111.03 158.75 L111.06 158.07 L111.08 157.38 L111.11 156.70 L111.13 156.02 L111.16 155.33 L111.18 154.65 L111.20 153.97 L111.23 153.29 L111.25 152.60 L111.28 151.92 L111.30 151.24 L111.32 150.56 L111.35 149.88 L111.37 149.20 L111.39 148.52 L111.41 147.84 L111.44 147.16 L111.46 146.48 L111.48 145.80 L111.50 145.13 L111.53 144.45 L111.55 143.77 L111.57 143.09 L111.60 142.41 L111.62 141.73 L111.64 141.05 L111.67 140.38 L111.69 139.70 L111.72 139.02 L111.74 138.34 L111.77 137.66 L111.79 136.98 L111.82 136.30 L111.85 135.62 L111.88 134.94 L111.90 134.26 L111.93 133.58 L111.96 132.90 L111.99 132.22 L112.03 131.53 L112.06 130.85 L112.09 130.17 L112.12 129.48 L112.16 128.80 L112.19 128.11 L112.23 127.43 L112.27 126.74 L112.31 126.05 L112.35 125.36 L112.39 124.67 L112.43 123.98 L112.47 123.29 L112.52 122.60 L112.56 121.91 L112.61 121.21 L112.66 120.52 L112.71 119.82 L112.76 119.13 L112.81 118.43 L112.87 117.73 L112.92 117.03 L112.98 116.33 L113.04 115.62 L113.10 114.92 L113.16 114.21 L113.23 113.51 L113.29 112.80 L113.36 112.09 L113.43 111.38 L113.50 110.67 L113.57 109.95 L113.65 109.24 L113.72 108.52 L113.80 107.80 L113.88 107.08 L113.96 106.36 L114.05 105.64 L114.14 104.91 L114.23 104.18 L114.32 103.45 L114.41 102.72 L114.51 101.99 L114.60 101.26 L114.70 100.52 L114.81 99.78 L114.91 99.04 L115.02 98.30 L115.13 97.55 L115.24 96.81 L115.36 96.06 L115.48 95.31 L115.60 94.56 L115.72 93.80 L115.85 93.04 L115.97 92.28 L116.10 91.52 L116.24 90.76 L116.38 89.99 L116.52 89.22 L116.66 88.45 L116.80 87.68 L116.95 86.90 L117.10 86.12 L117.26 85.34 L117.42 84.56 L117.58 83.77 L117.74 82.98 L117.91 82.19 L118.08 81.39 L118.25 80.60 L118.43 79.79 L118.61 78.99 L118.79 78.19 L118.98 77.38 L119.17 76.57 L119.37 75.76 L119.56 74.96 L119.77 74.18 L119.97 73.40 L120.18 72.64 L120.40 71.90 L120.61 71.19 L120.84 70.50 L121.07 69.84 L121.30 69.22 L121.54 68.63 L121.78 68.08 L122.03 67.58 L122.28 67.12 L122.54 66.71 L122.80 66.36 L123.07 66.06 L123.34 65.82 L123.62 65.65 L123.91 65.54 L124.20 65.50 L124.50 65.54 L124.80 65.65 L125.11 65.82 L125.43 66.05 L125.74 66.35 L126.06 66.70 L126.38 67.10 L126.70 67.56 L127.03 68.06 L127.35 68.60 L127.67 69.19 L127.99 69.81 L128.31 70.46 L128.62 71.14 L128.94 71.85 L129.24 72.59 L129.55 73.34 L129.84 74.11 L130.14 74.89 L130.42 75.68 L130.70 76.48 L130.96 77.29 L131.22 78.09 L131.47 78.89 L131.71 79.68 L131.95 80.47 L132.17 81.26 L132.38 82.04 L132.59 82.82 L132.79 83.59 L132.98 84.37 L133.17 85.13 L133.35 85.90 L133.52 86.66 L133.69 87.41 L133.85 88.17 L134.02 88.92 L134.17 89.67 L134.33 90.41 L134.48 91.16 L134.62 91.89 L134.77 92.63 L134.91 93.37 L135.06 94.10 L135.20 94.83 L135.34 95.56 L135.49 96.28 L135.63 97.01 L135.77 97.73 L135.91 98.45 L136.06 99.17 L136.20 99.88 L136.34 100.60 L136.48 101.31 L136.63 102.02 L136.77 102.73 L136.91 103.44 L137.05 104.14 L137.19 104.84 L137.34 105.55 L137.48 106.25 L137.62 106.95 L137.76 107.64 L137.90 108.34 L138.05 109.03 L138.19 109.73 L138.33 110.42 L138.47 111.11 L138.61 111.80 L138.75 112.49 L138.89 113.17 L139.04 113.86 L139.18 114.54 L139.32 115.22 L139.46 115.91 L139.60 116.59 L139.74 117.27 L139.88 117.95 L140.02 118.62 L140.16 119.30 L140.30 119.98 L140.44 120.65 L140.58 121.33 L140.72 122.00 L140.86 122.67 L141.00 123.34 L141.14 124.01 L141.28 124.69 L141.42 125.36 L141.56 126.03 L141.70 126.69 L141.83 127.36 L141.97 128.03 L142.11 128.70 L142.25 129.37 L142.39 130.03 L142.52 130.70 L142.66 131.36 L142.80 132.03 L142.94 132.70 L143.07 133.36 L143.21 134.03 L143.35 134.69 L143.48 135.36 L143.62 136.02 L143.76 136.69 L143.89 137.35 L144.03 138.02 L144.16 138.68 L144.30 139.35 L144.44 140.01 L144.57 140.68 L144.70 141.35 L144.84 142.01 L144.97 142.68 L145.11 143.34 L145.24 144.01 L145.38 144.68 L145.51 145.35 L145.64 146.02 L145.77 146.69 L145.91 147.35 L146.04 148.02 L146.17 148.70 L146.30 149.37 L146.44 150.04 L146.57 150.71 L146.70 151.39 L146.83 152.06 L146.96 152.73 L147.09 153.41 L147.22 154.09 L147.35 154.76 L147.48 155.44 L147.61 156.12 L147.74 156.80 L147.87 157.48 L148.00 158.16 L148.13 158.84 L148.26 159.52 L148.39 160.20 L148.51 160.88 L148.64 161.56 L148.77 162.25 L148.90 162.93 L149.03 163.61 L149.16 164.30 L149.29 164.98 L149.41 165.67 L149.54 166.36 L149.67 167.04 L149.80 167.73 L149.93 168.42 L150.06 169.10 L150.19 169.79 L150.31 170.48 L150.44 171.17 L150.57 171.86 L150.70 172.55 L150.83 173.24 L150.96 173.93 L151.09 174.62 L151.22 175.31 L151.35 176.00 L151.48 176.70 L151.61 177.39 L151.74 178.08 L151.87 178.77 L152.00 179.47 L152.13 180.16 L152.26 180.85 L152.39 181.55 L152.52 182.24 L152.65 182.93 L152.78 183.63 L152.92 184.32 L153.05 185.02 L153.18 185.71 L153.32 186.41 L153.45 187.10 L153.58 187.80 L153.72 188.49 L153.85 189.19 L153.99 189.88 L154.12 190.58 L154.26 191.28 L154.39 191.97 L154.53 192.67 L154.67 193.36 L154.80 194.06 L154.94 194.76 L155.08 195.45 L155.22 196.15 L155.36 196.85 L155.49 197.54 L155.63 198.24 L155.77 198.93 L155.92 199.63 L156.06 200.33 L156.20 201.02 L156.34 201.72 L156.49 202.42 L156.63 203.11 L156.77 203.81 L156.92 204.50 L157.06 205.20 L157.21 205.89 L157.36 206.59 L157.50 207.28 L157.65 207.98 L157.80 208.67 L157.95 209.37 L158.10 210.06 L158.25 210.76 L158.40 211.45 L158.55 212.15 L158.71 212.84 L158.86 213.53 L159.01 214.23 L159.17 214.92 L159.32 215.61 L159.48 216.31 L159.64 217.00 L159.80 217.69 L159.95 218.38 L160.11 219.07 L160.28 219.76 L160.44 220.45 L160.60 221.14 L160.76 221.83 L160.93 222.52 L161.09 223.21 L161.26 223.90 L161.42 224.59 L161.59 225.28 L161.76 225.97 L161.93 226.65 L162.10 227.34 L162.27 228.02 L162.44 228.71 L162.62 229.40 L162.79 230.08 L162.97 230.76 L163.14 231.45 L163.32 232.13 L163.50 232.81 L163.68 233.50 L163.86 234.18 L164.04 234.86 L164.22 235.54 L164.40 236.22 L164.59 236.90 L164.77 237.58 L164.96 238.26 L165.15 238.93 L165.34 239.61 L165.53 240.29 L165.72 240.96 L165.91 241.64 L166.11 242.31 L166.30 242.99 L166.50 243.66 L166.70 244.33 L166.90 245.00 L167.10 245.67 L167.30 246.34 L167.50 247.01 L167.70 247.68 L167.91 248.35 L168.11 249.02 L168.32 249.68 L168.53 250.35 L168.74 251.01 L168.95 251.68 L169.17 252.34 L169.38 253.00 L169.60 253.66 L169.81 254.32 L170.03 254.98 L170.25 255.64 L170.47 256.30 L170.69 256.96 L170.92 257.61 L171.14 258.27 L171.37 258.92 L171.60 259.58 L171.83 260.23 L172.06 260.88 L172.29 261.53 L172.53 262.18 L172.76 262.83 L173.00 263.48 L173.24 264.12 L173.48 264.77 L173.72 265.41 L173.97 266.06 L174.21 266.70 L174.46 267.34 L174.71 267.98 L174.96 268.62 L175.21 269.26 L175.46 269.89 L175.72 270.53 L175.97 271.17 L176.23 271.80 L176.49 272.43 L176.75 273.06 L177.02 273.69 L177.28 274.32 L177.55 274.95 L177.82 275.58 L178.09 276.20 L178.36 276.83 L178.64 277.45 L178.91 278.07 L179.19 278.69 L179.47 279.31 L179.75 279.93 L180.03 280.55 L180.32 281.16 L180.60 281.77 L180.89 282.39 L181.18 283.00 L181.47 283.61 L181.77 284.22 L182.06 284.83 L182.36 285.43 L182.66 286.04 L182.97 286.64 L183.27 287.25 L183.58 287.85 L183.89 288.45 L184.21 289.06 L184.53 289.66 L184.86 290.27 L185.19 290.87 L185.53 291.48 L185.87 292.09 L186.22 292.70 L186.58 293.31 L186.94 293.91 L187.30 294.52 L187.67 295.13 L188.05 295.74 L188.43 296.35 L188.82 296.95 L189.21 297.56 L189.61 298.16 L190.01 298.76 L190.42 299.36 L190.84 299.95 L191.26 300.55 L191.69 301.13 L192.12 301.72 L192.56 302.30 L193.00 302.88 L193.45 303.45 L193.91 304.02 L194.37 304.58 L194.83 305.14 L195.30 305.69 L195.78 306.24 L196.26 306.78 L196.75 307.31 L197.25 307.84 L197.75 308.36 L198.25 308.87 L198.76 309.38 L199.28 309.88 L199.80 310.37 L200.33 310.85 L200.86 311.32 L201.40 311.78 L201.95 312.24 L202.50 312.68 L203.06 313.11 L203.62 313.54 L204.18 313.95 L204.76 314.36 L205.34 314.75 L205.92 315.13 L206.51 315.50 L207.11 315.86 L207.71 316.20 L208.32 316.53 L208.93 316.85 L209.55 317.16 L210.17 317.46 L210.80 317.74 L211.44 318.00 L212.08 318.26 L212.72 318.50 L213.37 318.73 L214.03 318.95 L214.69 319.16 L215.35 319.35 L216.02 319.54 L216.69 319.71 L217.36 319.88 L218.03 320.03 L218.71 320.17 L219.40 320.30 L220.08 320.43 L220.77 320.54 L221.46 320.64 L222.15 320.74 L222.84 320.83 L223.53 320.91 L224.23 320.98 L224.92 321.04 L225.62 321.09 L226.32 321.14 L227.01 321.18 L227.71 321.22 L228.41 321.25 L229.11 321.27 L229.80 321.28 L230.50 321.29 L231.20 321.29 L231.89 321.29 L232.59 321.28 L233.28 321.27 L233.98 321.25 L234.68 321.22 L235.37 321.19 L236.07 321.16 L236.76 321.12 L237.46 321.07 L238.15 321.02 L238.85 320.97 L239.54 320.91 L240.23 320.85 L240.93 320.78 L241.62 320.71 L242.32 320.64 L243.01 320.56 L243.70 320.48 L244.40 320.40 L245.09 320.31 L245.78 320.22 L246.48 320.13 L247.17 320.03 L247.86 319.93 L248.56 319.83 L249.25 319.72 L249.94 319.62 L250.64 319.51 L251.33 319.40 L252.02 319.29 L252.71 319.17 L253.41 319.06 L254.10 318.94 L254.79 318.82 L255.48 318.71 L256.18 318.59 L256.87 318.46 L257.56 318.34 L258.25 318.22 L258.95 318.10 L259.64 317.97 L260.33 317.85 L261.02 317.73 L261.71 317.61 L262.41 317.48 L263.10 317.36 L263.79 317.24 L264.48 317.12 L265.18 317.00 L265.87 316.88 L266.56 316.76 L267.25 316.64 L267.95 316.52 L268.64 316.41 L269.33 316.29 L270.03 316.18 L270.72 316.07 L271.41 315.96 L272.10 315.85 L272.80 315.74 L273.49 315.63 L274.18 315.52 L274.88 315.42 L275.57 315.31 L276.26 315.21 L276.96 315.11 L277.65 315.00 L278.34 314.90 L279.04 314.80 L279.73 314.71 L280.42 314.61 L281.12 314.51 L281.81 314.42 L282.50 314.32 L283.20 314.23 L283.89 314.14 L284.58 314.05 L285.28 313.96 L285.97 313.87 L286.67 313.78 L287.36 313.69 L288.05 313.60 L288.75 313.52 L289.44 313.44 L290.14 313.35 L290.83 313.27 L291.53 313.19 L292.22 313.11 L292.91 313.03 L293.61 312.95 L294.30 312.88 L295.00 312.80 L295.69 312.73 L296.39 312.65 L297.08 312.58 L297.78 312.51 L298.47 312.44 L299.17 312.37 L299.86 312.30 L300.56 312.23 L301.25 312.16 L301.95 312.10 L302.64 312.03 L303.34 311.97 L304.03 311.91 L304.73 311.84 L305.42 311.78 L306.12 311.72 L306.82 311.66 L307.51 311.61 L308.21 311.55 L308.90 311.49 L309.60 311.44 L310.30 311.38 L310.99 311.33 L311.69 311.28 L312.38 311.23 L313.08 311.18 L313.78 311.13 L314.47 311.08 L315.17 311.03 L315.87 310.98 L316.56 310.94 L317.26 310.89 L317.96 310.85 L318.65 310.81 L319.35 310.77 L320.05 310.72 L320.74 310.68 L321.44 310.65 L322.14 310.61 L322.84 310.57 L323.53 310.53 L324.23 310.50 L324.93 310.47 L325.62 310.43 L326.32 310.40 L327.02 310.37 L327.72 310.34 L328.42 310.31 L329.11 310.28 L329.81 310.25 L330.51 310.22 L331.21 310.20 L331.91 310.17 L332.60 310.15 L333.30 310.12 L334.00 310.10 L334.70 310.08 L335.40 310.06 L336.10 310.04 L336.80 310.02 L337.50 310.00 L338.19 309.99 L338.89 309.97 L339.59 309.95 L340.29 309.94 L340.99 309.93 L341.69 309.91 L342.39 309.90 L343.09 309.89 L343.79 309.88 L344.49 309.87 L345.19 309.86 L345.89 309.86 L346.59 309.85 L347.29 309.84 L347.99 309.84 L348.69 309.84 L349.39 309.83 L350.09 309.83 L350.79 309.83 L351.49 309.83 L352.19 309.83 L352.89 309.83 L353.59 309.83 L354.29 309.83 L355.00 309.84 L355.70 309.84 L356.40 309.85 L357.10 309.85 L357.80 309.86 L358.50 309.87 L359.20 309.88 L359.91 309.89 L360.61 309.90 L361.31 309.91 L362.01 309.92 L362.71 309.93" fill="none" stroke="#0000FF" stroke-width="1.35" stroke-linecap="round" stroke-linejoin="round"/></g>
</g>
<path d="M51.00 340.60 H363.20" stroke="#000" stroke-width="0.75" fill="none"/>
<path d="M51.00 340.60 V346.60" stroke="#000" stroke-width="0.75" fill="none"/>
<text transform="translate(51.00 361.75) scale(0.975 1.07)" text-anchor="middle" font-size="11.2">0.0</text>
<path d="M129.05 340.60 V346.60" stroke="#000" stroke-width="0.75" fill="none"/>
<text transform="translate(129.05 361.75) scale(0.975 1.07)" text-anchor="middle" font-size="11.2">0.5</text>
<path d="M207.10 340.60 V346.60" stroke="#000" stroke-width="0.75" fill="none"/>
<text transform="translate(207.10 361.75) scale(0.975 1.07)" text-anchor="middle" font-size="11.2">1.0</text>
<path d="M285.15 340.60 V346.60" stroke="#000" stroke-width="0.75" fill="none"/>
<text transform="translate(285.15 361.75) scale(0.975 1.07)" text-anchor="middle" font-size="11.2">1.5</text>
<path d="M363.20 340.60 V346.60" stroke="#000" stroke-width="0.75" fill="none"/>
<text transform="translate(363.20 361.75) scale(0.975 1.07)" text-anchor="middle" font-size="11.2">2.0</text>
<path d="M46.60 310.35 V77.04" stroke="#000" stroke-width="0.75" fill="none"/>
<path d="M46.60 310.35 H40.60" stroke="#000" stroke-width="0.75" fill="none"/>
<text transform="translate(33.5 310.35) rotate(-90) scale(0.975 1.07)" text-anchor="middle" font-size="11.2">0.0</text>
<path d="M46.60 271.47 H40.60" stroke="#000" stroke-width="0.75" fill="none"/>
<text transform="translate(33.5 271.47) rotate(-90) scale(0.975 1.07)" text-anchor="middle" font-size="11.2">0.1</text>
<path d="M46.60 232.58 H40.60" stroke="#000" stroke-width="0.75" fill="none"/>
<text transform="translate(33.5 232.58) rotate(-90) scale(0.975 1.07)" text-anchor="middle" font-size="11.2">0.2</text>
<path d="M46.60 193.70 H40.60" stroke="#000" stroke-width="0.75" fill="none"/>
<text transform="translate(33.5 193.70) rotate(-90) scale(0.975 1.07)" text-anchor="middle" font-size="11.2">0.3</text>
<path d="M46.60 154.81 H40.60" stroke="#000" stroke-width="0.75" fill="none"/>
<text transform="translate(33.5 154.81) rotate(-90) scale(0.975 1.07)" text-anchor="middle" font-size="11.2">0.4</text>
<path d="M46.60 115.93 H40.60" stroke="#000" stroke-width="0.75" fill="none"/>
<text transform="translate(33.5 115.93) rotate(-90) scale(0.975 1.07)" text-anchor="middle" font-size="11.2">0.5</text>
<path d="M46.60 77.04 H40.60" stroke="#000" stroke-width="0.75" fill="none"/>
<text transform="translate(33.5 77.04) rotate(-90) scale(0.975 1.07)" text-anchor="middle" font-size="11.2">0.6</text>
<path d="M309.6 58.00 H327.1" stroke="#00FF00" stroke-width="0.75" fill="none"/>
<text x="336.0" y="60.70" font-size="8.2">λ</text>
<text x="339.7" y="61.50" font-size="4.8">q</text>
<path d="M344.7 57.05 H350.05 M344.7 58.90 H350.05" stroke="#000" stroke-width="0.75" fill="none"/>
<text x="352.15" y="60.80" font-size="9.4">0.8</text>
<path d="M309.6 69.45 H327.1" stroke="#A52A2A" stroke-width="0.75" fill="none"/>
<text x="336.0" y="72.15" font-size="8.2">λ</text>
<text x="339.7" y="72.95" font-size="4.8">q</text>
<path d="M344.7 68.50 H350.05 M344.7 70.35 H350.05" stroke="#000" stroke-width="0.75" fill="none"/>
<text x="352.15" y="72.25" font-size="9.4">0.5</text>
<path d="M309.6 80.90 H327.1" stroke="#0000FF" stroke-width="0.75" fill="none"/>
<text x="336.0" y="83.60" font-size="8.2">λ</text>
<text x="339.7" y="84.40" font-size="4.8">q</text>
<path d="M344.7 79.95 H350.05 M344.7 81.80 H350.05" stroke="#000" stroke-width="0.75" fill="none"/>
<text x="352.15" y="83.70" font-size="9.4">0.33</text>
<path d="M309.6 92.30 H327.1" stroke="#BEBEBE" stroke-width="0.75" fill="none"/>
<text x="336.0" y="95.00" font-size="8.2">λ</text>
<text x="339.7" y="95.80" font-size="4.8">q</text>
<path d="M344.7 91.35 H350.05 M344.7 93.20 H350.05" stroke="#000" stroke-width="0.75" fill="none"/>
<text x="352.15" y="95.10" font-size="9.4">0.2</text>
<path d="M309.6 103.75 H327.1" stroke="#FF0000" stroke-width="0.75" fill="none"/>
<text x="336.0" y="106.45" font-size="8.2">λ</text>
<text x="339.7" y="107.25" font-size="4.8">q</text>
<path d="M344.7 102.80 H350.05 M344.7 104.65 H350.05" stroke="#000" stroke-width="0.75" fill="none"/>
<text x="352.15" y="106.55" font-size="9.4">0.1</text>
<path d="M309.6 115.20 H327.1" stroke="#000000" stroke-width="0.75" fill="none"/>
<text x="336.0" y="117.90" font-size="8.2">λ</text>
<text x="339.7" y="118.70" font-size="4.8">q</text>
<path d="M344.7 114.25 H350.05 M344.7 116.10 H350.05" stroke="#000" stroke-width="0.75" fill="none"/>
<text x="352.15" y="118.00" font-size="9.4">0.01</text>
<text transform="translate(211.3 371.6) scale(0.94 0.96)" text-anchor="middle" font-size="17.2">ω</text>
<text transform="translate(18.30 237.90) rotate(-90)" text-anchor="middle" font-size="17.2">1</text>
<text transform="translate(18.30 229.20) rotate(-90)" text-anchor="middle" font-size="17.2">0</text>
<text transform="translate(10.00 218.80) rotate(-90)" text-anchor="middle" font-size="11.8">5</text>
<text transform="translate(18.45 212.35) rotate(-90)" text-anchor="middle" font-size="18.6">(</text>
<text transform="translate(18.30 203.45) rotate(-90)" text-anchor="middle" font-size="17.2">S</text>
<text transform="translate(18.45 194.50) rotate(-90)" text-anchor="middle" font-size="18.6">(</text>
<text transform="translate(18.30 187.40) rotate(-90) scale(0.94 0.95)" text-anchor="middle" font-size="17.2">ω</text>
<text transform="translate(18.45 177.40) rotate(-90)" text-anchor="middle" font-size="18.6">)</text>
<text transform="translate(18.80 165.75) rotate(-90)" text-anchor="middle" font-size="17.2">−</text>
<text transform="translate(18.30 156.80) rotate(-90)" text-anchor="middle" font-size="17.2">f</text>
<text transform="translate(18.45 150.25) rotate(-90)" text-anchor="middle" font-size="18.6">)</text>
</svg>
</body></html>
